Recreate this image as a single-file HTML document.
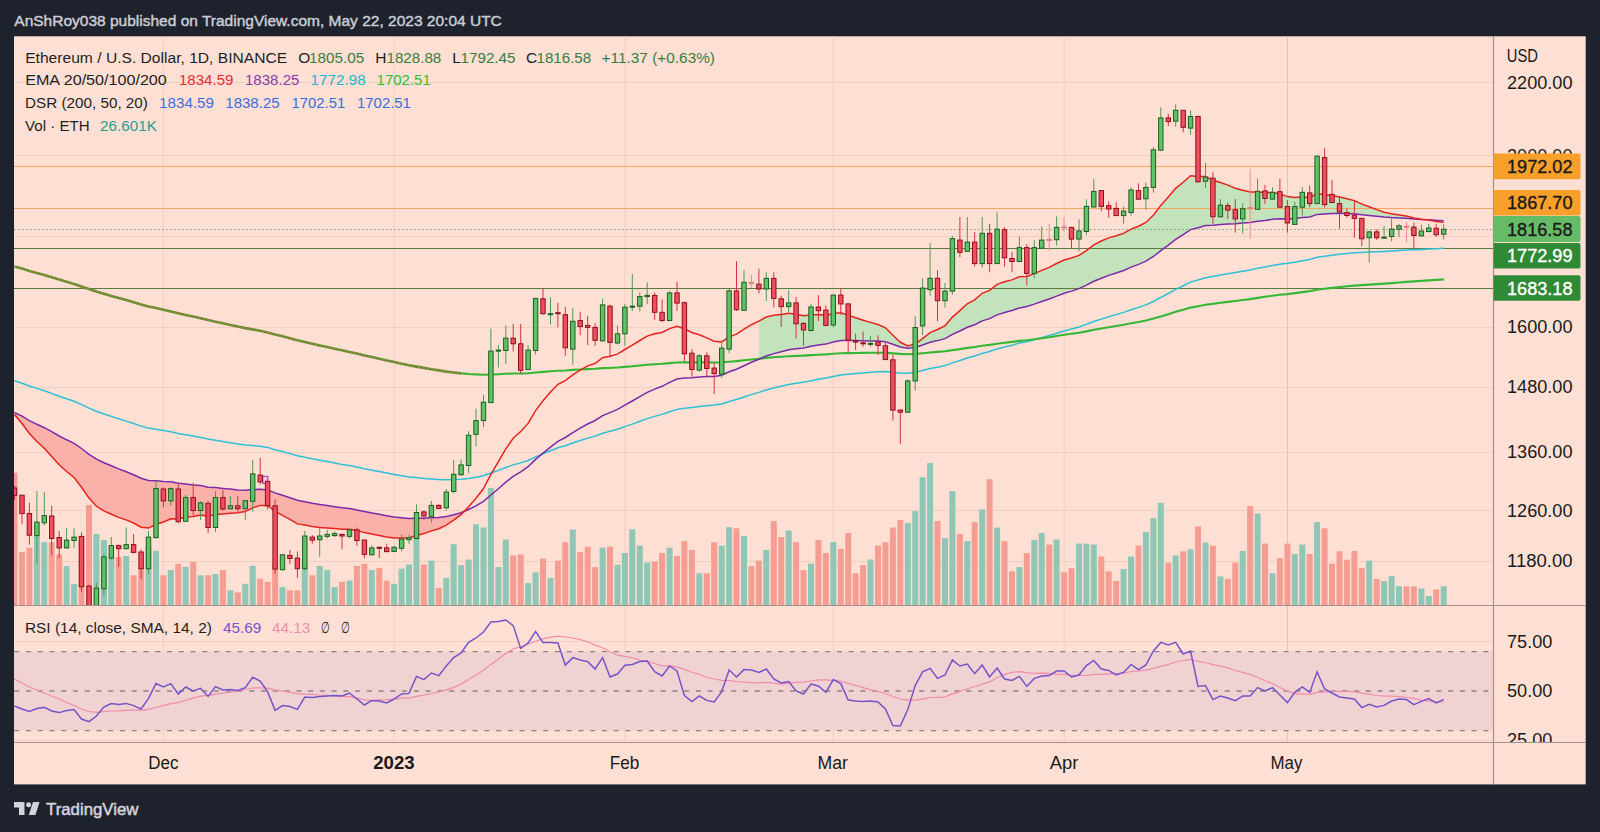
<!DOCTYPE html>
<html><head><meta charset="utf-8"><title>ETHUSD chart</title>
<style>html,body{margin:0;padding:0;background:#1e222d;width:1600px;height:832px;overflow:hidden;position:relative}</style>
</head><body>
<svg width="1600" height="832" viewBox="0 0 1600 832" style="position:absolute;left:0;top:0">
<defs><clipPath id="cm"><rect x="14" y="36" width="1479.5" height="569.5"/></clipPath><clipPath id="cr"><rect x="14" y="606" width="1479.5" height="136.5"/></clipPath><clipPath id="cra"><rect x="1494" y="606" width="92" height="136"/></clipPath></defs>
<rect x="14" y="36.3" width="1571.7" height="748.1" fill="#fde0d3"/>
<line x1="163.4" y1="36.3" x2="163.4" y2="742.5" stroke="#efcfc2" stroke-width="1"/>
<line x1="394.1" y1="36.3" x2="394.1" y2="742.5" stroke="#efcfc2" stroke-width="1"/>
<line x1="624.9" y1="36.3" x2="624.9" y2="742.5" stroke="#efcfc2" stroke-width="1"/>
<line x1="833.3" y1="36.3" x2="833.3" y2="742.5" stroke="#efcfc2" stroke-width="1"/>
<line x1="1064.1" y1="36.3" x2="1064.1" y2="742.5" stroke="#efcfc2" stroke-width="1"/>
<line x1="1287.4" y1="36.3" x2="1287.4" y2="742.5" stroke="#dfc0b5" stroke-width="1"/>
<line x1="14" y1="82.5" x2="1493.5" y2="82.5" stroke="#efcfc2" stroke-width="1"/>
<line x1="14" y1="155.5" x2="1493.5" y2="155.5" stroke="#efcfc2" stroke-width="1"/>
<line x1="14" y1="236.5" x2="1493.5" y2="236.5" stroke="#efcfc2" stroke-width="1"/>
<line x1="14" y1="327.5" x2="1493.5" y2="327.5" stroke="#efcfc2" stroke-width="1"/>
<line x1="14" y1="387.5" x2="1493.5" y2="387.5" stroke="#efcfc2" stroke-width="1"/>
<line x1="14" y1="452.5" x2="1493.5" y2="452.5" stroke="#efcfc2" stroke-width="1"/>
<line x1="14" y1="510.5" x2="1493.5" y2="510.5" stroke="#efcfc2" stroke-width="1"/>
<line x1="14" y1="561.5" x2="1493.5" y2="561.5" stroke="#efcfc2" stroke-width="1"/>
<g clip-path="url(#cm)">
<rect x="11.5" y="472.7" width="6" height="132.8" fill="#f59d92"/>
<rect x="19.0" y="552.0" width="6" height="53.5" fill="#f59d92"/>
<rect x="26.4" y="547.7" width="6" height="57.8" fill="#f59d92"/>
<rect x="33.9" y="536.0" width="6" height="69.5" fill="#8fc6b5"/>
<rect x="41.3" y="542.2" width="6" height="63.3" fill="#8fc6b5"/>
<rect x="48.7" y="542.2" width="6" height="63.3" fill="#f59d92"/>
<rect x="56.2" y="554.4" width="6" height="51.1" fill="#f59d92"/>
<rect x="63.6" y="566.1" width="6" height="39.4" fill="#8fc6b5"/>
<rect x="71.1" y="584.0" width="6" height="21.5" fill="#8fc6b5"/>
<rect x="78.5" y="536.0" width="6" height="69.5" fill="#f59d92"/>
<rect x="86.0" y="505.0" width="6" height="100.5" fill="#f59d92"/>
<rect x="93.4" y="534.0" width="6" height="71.5" fill="#8fc6b5"/>
<rect x="100.9" y="540.0" width="6" height="65.5" fill="#8fc6b5"/>
<rect x="108.3" y="557.5" width="6" height="48.0" fill="#8fc6b5"/>
<rect x="115.7" y="557.0" width="6" height="48.5" fill="#f59d92"/>
<rect x="123.2" y="556.0" width="6" height="49.5" fill="#8fc6b5"/>
<rect x="130.6" y="575.3" width="6" height="30.2" fill="#f59d92"/>
<rect x="138.1" y="567.7" width="6" height="37.8" fill="#f59d92"/>
<rect x="145.5" y="546.0" width="6" height="59.5" fill="#8fc6b5"/>
<rect x="153.0" y="550.8" width="6" height="54.7" fill="#8fc6b5"/>
<rect x="160.4" y="575.3" width="6" height="30.2" fill="#f59d92"/>
<rect x="167.8" y="570.0" width="6" height="35.5" fill="#8fc6b5"/>
<rect x="175.3" y="563.8" width="6" height="41.7" fill="#f59d92"/>
<rect x="182.7" y="566.7" width="6" height="38.8" fill="#8fc6b5"/>
<rect x="190.2" y="561.8" width="6" height="43.7" fill="#f59d92"/>
<rect x="197.6" y="575.3" width="6" height="30.2" fill="#8fc6b5"/>
<rect x="205.1" y="575.3" width="6" height="30.2" fill="#f59d92"/>
<rect x="212.5" y="574.0" width="6" height="31.5" fill="#8fc6b5"/>
<rect x="219.9" y="570.0" width="6" height="35.5" fill="#f59d92"/>
<rect x="227.4" y="590.4" width="6" height="15.1" fill="#8fc6b5"/>
<rect x="234.8" y="592.4" width="6" height="13.1" fill="#f59d92"/>
<rect x="242.3" y="583.8" width="6" height="21.7" fill="#8fc6b5"/>
<rect x="249.7" y="565.9" width="6" height="39.6" fill="#8fc6b5"/>
<rect x="257.2" y="578.7" width="6" height="26.8" fill="#f59d92"/>
<rect x="264.6" y="581.8" width="6" height="23.7" fill="#f59d92"/>
<rect x="272.1" y="564.6" width="6" height="40.9" fill="#f59d92"/>
<rect x="279.5" y="587.1" width="6" height="18.4" fill="#8fc6b5"/>
<rect x="286.9" y="590.4" width="6" height="15.1" fill="#f59d92"/>
<rect x="294.4" y="590.4" width="6" height="15.1" fill="#f59d92"/>
<rect x="301.8" y="566.7" width="6" height="38.8" fill="#8fc6b5"/>
<rect x="309.3" y="575.3" width="6" height="30.2" fill="#f59d92"/>
<rect x="316.7" y="565.9" width="6" height="39.6" fill="#8fc6b5"/>
<rect x="324.2" y="570.0" width="6" height="35.5" fill="#8fc6b5"/>
<rect x="331.6" y="587.1" width="6" height="18.4" fill="#8fc6b5"/>
<rect x="339.0" y="581.8" width="6" height="23.7" fill="#f59d92"/>
<rect x="346.5" y="580.6" width="6" height="24.9" fill="#8fc6b5"/>
<rect x="353.9" y="565.9" width="6" height="39.6" fill="#f59d92"/>
<rect x="361.4" y="563.8" width="6" height="41.7" fill="#f59d92"/>
<rect x="368.8" y="570.0" width="6" height="35.5" fill="#8fc6b5"/>
<rect x="376.3" y="567.9" width="6" height="37.6" fill="#f59d92"/>
<rect x="383.7" y="580.6" width="6" height="24.9" fill="#f59d92"/>
<rect x="391.1" y="583.8" width="6" height="21.7" fill="#8fc6b5"/>
<rect x="398.6" y="568.7" width="6" height="36.8" fill="#8fc6b5"/>
<rect x="406.0" y="564.6" width="6" height="40.9" fill="#8fc6b5"/>
<rect x="413.5" y="538.1" width="6" height="67.4" fill="#8fc6b5"/>
<rect x="420.9" y="564.6" width="6" height="40.9" fill="#f59d92"/>
<rect x="428.4" y="560.6" width="6" height="44.9" fill="#8fc6b5"/>
<rect x="435.8" y="588.1" width="6" height="17.4" fill="#f59d92"/>
<rect x="443.3" y="577.9" width="6" height="27.6" fill="#8fc6b5"/>
<rect x="450.7" y="544.2" width="6" height="61.3" fill="#8fc6b5"/>
<rect x="458.1" y="565.1" width="6" height="40.4" fill="#8fc6b5"/>
<rect x="465.6" y="559.5" width="6" height="46.0" fill="#8fc6b5"/>
<rect x="473.0" y="524.2" width="6" height="81.3" fill="#8fc6b5"/>
<rect x="480.5" y="527.5" width="6" height="78.0" fill="#8fc6b5"/>
<rect x="487.9" y="488.0" width="6" height="117.5" fill="#8fc6b5"/>
<rect x="495.4" y="567.1" width="6" height="38.4" fill="#8fc6b5"/>
<rect x="502.8" y="539.5" width="6" height="66.0" fill="#8fc6b5"/>
<rect x="510.2" y="555.4" width="6" height="50.1" fill="#f59d92"/>
<rect x="517.7" y="554.4" width="6" height="51.1" fill="#f59d92"/>
<rect x="525.1" y="583.0" width="6" height="22.5" fill="#8fc6b5"/>
<rect x="532.6" y="572.4" width="6" height="33.1" fill="#8fc6b5"/>
<rect x="540.0" y="558.5" width="6" height="47.0" fill="#f59d92"/>
<rect x="547.5" y="577.9" width="6" height="27.6" fill="#8fc6b5"/>
<rect x="554.9" y="560.6" width="6" height="44.9" fill="#f59d92"/>
<rect x="562.3" y="542.2" width="6" height="63.3" fill="#f59d92"/>
<rect x="569.8" y="529.5" width="6" height="76.0" fill="#8fc6b5"/>
<rect x="577.2" y="552.0" width="6" height="53.5" fill="#f59d92"/>
<rect x="584.7" y="546.7" width="6" height="58.8" fill="#f59d92"/>
<rect x="592.1" y="567.1" width="6" height="38.4" fill="#f59d92"/>
<rect x="599.6" y="547.7" width="6" height="57.8" fill="#8fc6b5"/>
<rect x="607.0" y="546.7" width="6" height="58.8" fill="#f59d92"/>
<rect x="614.5" y="564.6" width="6" height="40.9" fill="#8fc6b5"/>
<rect x="621.9" y="553.0" width="6" height="52.5" fill="#8fc6b5"/>
<rect x="629.3" y="529.3" width="6" height="76.2" fill="#8fc6b5"/>
<rect x="636.8" y="545.6" width="6" height="59.9" fill="#8fc6b5"/>
<rect x="644.2" y="562.6" width="6" height="42.9" fill="#8fc6b5"/>
<rect x="651.7" y="561.6" width="6" height="43.9" fill="#f59d92"/>
<rect x="659.1" y="553.0" width="6" height="52.5" fill="#f59d92"/>
<rect x="666.6" y="547.7" width="6" height="57.8" fill="#8fc6b5"/>
<rect x="674.0" y="556.1" width="6" height="49.4" fill="#f59d92"/>
<rect x="681.4" y="541.1" width="6" height="64.4" fill="#f59d92"/>
<rect x="688.9" y="549.9" width="6" height="55.6" fill="#f59d92"/>
<rect x="696.3" y="573.2" width="6" height="32.3" fill="#8fc6b5"/>
<rect x="703.8" y="573.2" width="6" height="32.3" fill="#f59d92"/>
<rect x="711.2" y="542.2" width="6" height="63.3" fill="#f59d92"/>
<rect x="718.7" y="545.6" width="6" height="59.9" fill="#8fc6b5"/>
<rect x="726.1" y="527.2" width="6" height="78.3" fill="#8fc6b5"/>
<rect x="733.5" y="528.3" width="6" height="77.2" fill="#f59d92"/>
<rect x="741.0" y="536.0" width="6" height="69.5" fill="#8fc6b5"/>
<rect x="748.4" y="566.1" width="6" height="39.4" fill="#f59d92"/>
<rect x="755.9" y="560.6" width="6" height="44.9" fill="#f59d92"/>
<rect x="763.3" y="549.9" width="6" height="55.6" fill="#8fc6b5"/>
<rect x="770.8" y="521.1" width="6" height="84.4" fill="#f59d92"/>
<rect x="778.2" y="537.1" width="6" height="68.4" fill="#f59d92"/>
<rect x="785.7" y="530.5" width="6" height="75.0" fill="#8fc6b5"/>
<rect x="793.1" y="542.2" width="6" height="63.3" fill="#f59d92"/>
<rect x="800.5" y="570.2" width="6" height="35.3" fill="#f59d92"/>
<rect x="808.0" y="563.6" width="6" height="41.9" fill="#8fc6b5"/>
<rect x="815.4" y="540.1" width="6" height="65.4" fill="#f59d92"/>
<rect x="822.9" y="553.0" width="6" height="52.5" fill="#f59d92"/>
<rect x="830.3" y="542.2" width="6" height="63.3" fill="#8fc6b5"/>
<rect x="837.8" y="548.9" width="6" height="56.6" fill="#f59d92"/>
<rect x="845.2" y="533.0" width="6" height="72.5" fill="#f59d92"/>
<rect x="852.6" y="573.2" width="6" height="32.3" fill="#f59d92"/>
<rect x="860.1" y="565.1" width="6" height="40.4" fill="#f59d92"/>
<rect x="867.5" y="559.5" width="6" height="46.0" fill="#8fc6b5"/>
<rect x="875.0" y="545.6" width="6" height="59.9" fill="#f59d92"/>
<rect x="882.4" y="542.2" width="6" height="63.3" fill="#f59d92"/>
<rect x="889.9" y="527.5" width="6" height="78.0" fill="#f59d92"/>
<rect x="897.3" y="520.1" width="6" height="85.4" fill="#f59d92"/>
<rect x="904.8" y="523.2" width="6" height="82.3" fill="#8fc6b5"/>
<rect x="912.2" y="511.1" width="6" height="94.4" fill="#8fc6b5"/>
<rect x="919.6" y="477.2" width="6" height="128.3" fill="#8fc6b5"/>
<rect x="927.1" y="463.1" width="6" height="142.4" fill="#8fc6b5"/>
<rect x="934.5" y="521.1" width="6" height="84.4" fill="#f59d92"/>
<rect x="942.0" y="538.1" width="6" height="67.4" fill="#8fc6b5"/>
<rect x="949.4" y="491.1" width="6" height="114.4" fill="#8fc6b5"/>
<rect x="956.9" y="534.0" width="6" height="71.5" fill="#f59d92"/>
<rect x="964.3" y="541.1" width="6" height="64.4" fill="#8fc6b5"/>
<rect x="971.7" y="522.1" width="6" height="83.4" fill="#f59d92"/>
<rect x="979.2" y="509.5" width="6" height="96.0" fill="#8fc6b5"/>
<rect x="986.6" y="479.2" width="6" height="126.3" fill="#f59d92"/>
<rect x="994.1" y="527.5" width="6" height="78.0" fill="#8fc6b5"/>
<rect x="1001.5" y="541.1" width="6" height="64.4" fill="#f59d92"/>
<rect x="1009.0" y="571.4" width="6" height="34.1" fill="#f59d92"/>
<rect x="1016.4" y="567.1" width="6" height="38.4" fill="#8fc6b5"/>
<rect x="1023.8" y="553.0" width="6" height="52.5" fill="#f59d92"/>
<rect x="1031.3" y="540.1" width="6" height="65.4" fill="#8fc6b5"/>
<rect x="1038.7" y="533.0" width="6" height="72.5" fill="#8fc6b5"/>
<rect x="1046.2" y="544.6" width="6" height="60.9" fill="#f59d92"/>
<rect x="1053.6" y="539.5" width="6" height="66.0" fill="#8fc6b5"/>
<rect x="1061.1" y="572.2" width="6" height="33.3" fill="#f59d92"/>
<rect x="1068.5" y="568.3" width="6" height="37.2" fill="#f59d92"/>
<rect x="1076.0" y="543.6" width="6" height="61.9" fill="#8fc6b5"/>
<rect x="1083.4" y="543.6" width="6" height="61.9" fill="#8fc6b5"/>
<rect x="1090.8" y="544.6" width="6" height="60.9" fill="#8fc6b5"/>
<rect x="1098.3" y="556.5" width="6" height="49.0" fill="#f59d92"/>
<rect x="1105.7" y="571.4" width="6" height="34.1" fill="#f59d92"/>
<rect x="1113.2" y="581.0" width="6" height="24.5" fill="#f59d92"/>
<rect x="1120.6" y="569.1" width="6" height="36.4" fill="#8fc6b5"/>
<rect x="1128.1" y="556.5" width="6" height="49.0" fill="#8fc6b5"/>
<rect x="1135.5" y="545.6" width="6" height="59.9" fill="#f59d92"/>
<rect x="1142.9" y="532.0" width="6" height="73.5" fill="#8fc6b5"/>
<rect x="1150.4" y="518.1" width="6" height="87.4" fill="#8fc6b5"/>
<rect x="1157.8" y="502.9" width="6" height="102.6" fill="#8fc6b5"/>
<rect x="1165.3" y="563.0" width="6" height="42.5" fill="#f59d92"/>
<rect x="1172.7" y="555.4" width="6" height="50.1" fill="#8fc6b5"/>
<rect x="1180.2" y="551.4" width="6" height="54.1" fill="#f59d92"/>
<rect x="1187.6" y="549.3" width="6" height="56.2" fill="#8fc6b5"/>
<rect x="1195.0" y="526.4" width="6" height="79.1" fill="#f59d92"/>
<rect x="1202.5" y="542.6" width="6" height="62.9" fill="#8fc6b5"/>
<rect x="1209.9" y="545.8" width="6" height="59.7" fill="#f59d92"/>
<rect x="1217.4" y="576.5" width="6" height="29.0" fill="#8fc6b5"/>
<rect x="1224.8" y="578.9" width="6" height="26.6" fill="#f59d92"/>
<rect x="1232.3" y="562.6" width="6" height="42.9" fill="#f59d92"/>
<rect x="1239.7" y="551.0" width="6" height="54.5" fill="#8fc6b5"/>
<rect x="1247.2" y="506.0" width="6" height="99.5" fill="#f59d92"/>
<rect x="1254.6" y="513.6" width="6" height="91.9" fill="#8fc6b5"/>
<rect x="1262.0" y="543.6" width="6" height="61.9" fill="#f59d92"/>
<rect x="1269.5" y="573.2" width="6" height="32.3" fill="#8fc6b5"/>
<rect x="1276.9" y="558.1" width="6" height="47.4" fill="#f59d92"/>
<rect x="1284.4" y="543.6" width="6" height="61.9" fill="#f59d92"/>
<rect x="1291.8" y="554.0" width="6" height="51.5" fill="#8fc6b5"/>
<rect x="1299.3" y="544.6" width="6" height="60.9" fill="#8fc6b5"/>
<rect x="1306.7" y="554.0" width="6" height="51.5" fill="#f59d92"/>
<rect x="1314.1" y="522.1" width="6" height="83.4" fill="#8fc6b5"/>
<rect x="1321.6" y="528.3" width="6" height="77.2" fill="#f59d92"/>
<rect x="1329.0" y="563.6" width="6" height="41.9" fill="#f59d92"/>
<rect x="1336.5" y="551.2" width="6" height="54.3" fill="#f59d92"/>
<rect x="1343.9" y="559.7" width="6" height="45.8" fill="#f59d92"/>
<rect x="1351.4" y="551.0" width="6" height="54.5" fill="#f59d92"/>
<rect x="1358.8" y="568.1" width="6" height="37.4" fill="#f59d92"/>
<rect x="1366.2" y="560.6" width="6" height="44.9" fill="#8fc6b5"/>
<rect x="1373.7" y="578.9" width="6" height="26.6" fill="#f59d92"/>
<rect x="1381.1" y="581.1" width="6" height="24.4" fill="#8fc6b5"/>
<rect x="1388.6" y="575.8" width="6" height="29.7" fill="#8fc6b5"/>
<rect x="1396.0" y="586.3" width="6" height="19.2" fill="#8fc6b5"/>
<rect x="1403.5" y="586.3" width="6" height="19.2" fill="#f59d92"/>
<rect x="1410.9" y="586.3" width="6" height="19.2" fill="#f59d92"/>
<rect x="1418.4" y="588.4" width="6" height="17.1" fill="#8fc6b5"/>
<rect x="1425.8" y="596.0" width="6" height="9.5" fill="#8fc6b5"/>
<rect x="1433.2" y="589.5" width="6" height="16.0" fill="#f59d92"/>
<rect x="1440.7" y="586.3" width="6" height="19.2" fill="#8fc6b5"/>
<polygon points="14.5,414.6 22.0,423.5 29.4,433.5 36.9,441.5 44.3,448.2 51.7,456.4 59.2,464.7 66.6,471.5 74.1,477.5 81.5,487.3 89.0,498.1 96.4,506.2 103.9,510.9 111.3,514.2 118.7,517.4 126.2,519.9 133.6,523.0 141.1,527.2 148.5,528.1 156.0,524.3 163.4,522.0 170.8,518.8 178.3,519.1 185.7,517.0 193.2,516.4 200.6,515.1 208.1,516.3 215.5,514.5 222.9,513.9 230.4,513.2 237.8,512.7 245.3,511.6 252.7,507.9 260.2,505.4 267.6,505.4 275.1,511.3 282.5,515.3 289.9,519.3 297.4,523.9 304.8,525.0 312.3,526.5 319.7,527.4 327.2,528.0 334.6,528.6 342.0,529.3 349.5,529.3 356.9,530.4 364.4,532.6 371.8,534.1 379.3,535.4 386.7,536.9 394.1,537.9 401.6,538.0 409.0,538.0 416.5,535.5 423.9,533.6 431.4,530.9 438.8,528.7 446.3,525.2 453.7,520.2 461.1,514.7 468.6,506.8 468.6,509.5 461.1,512.7 453.7,514.7 446.3,516.4 438.8,517.4 431.4,517.7 423.9,518.2 416.5,518.3 409.0,518.6 401.6,517.8 394.1,516.9 386.7,515.7 379.3,514.3 371.8,513.0 364.4,511.6 356.9,509.9 349.5,508.6 342.0,507.8 334.6,506.7 327.2,505.6 319.7,504.4 312.3,503.2 304.8,501.7 297.4,500.3 289.9,497.7 282.5,495.3 275.1,492.9 267.6,490.0 260.2,489.3 252.7,489.6 245.3,490.3 237.8,489.9 230.4,489.1 222.9,488.4 215.5,487.6 208.1,487.2 200.6,485.6 193.2,484.9 185.7,483.9 178.3,483.3 170.8,481.8 163.4,481.5 156.0,480.7 148.5,480.4 141.1,478.2 133.6,474.7 126.2,471.7 118.7,468.9 111.3,465.8 103.9,462.7 96.4,459.1 89.0,454.3 81.5,448.5 74.1,443.4 66.6,439.8 59.2,436.0 51.7,431.7 44.3,427.7 36.9,424.3 29.4,420.6 22.0,416.2 14.5,412.5" fill="#f9b1a9"/>
<polygon points="758.9,321.2 766.3,317.0 773.8,315.2 781.2,314.4 788.7,313.3 796.1,314.3 803.5,315.8 811.0,314.9 818.4,314.5 825.9,315.6 833.3,313.6 840.8,312.7 848.2,315.2 855.6,317.8 863.1,320.2 870.5,322.4 878.0,324.5 885.4,327.8 892.9,335.3 900.3,342.3 907.8,345.9 915.2,344.1 922.6,338.6 930.1,332.6 937.5,329.5 945.0,325.8 952.4,317.1 959.9,310.6 967.3,303.8 974.7,299.9 982.2,293.3 989.6,290.4 997.1,284.4 1004.5,281.8 1012.0,279.9 1019.4,276.7 1026.8,276.4 1034.3,273.6 1041.7,270.4 1049.2,267.4 1056.6,263.5 1064.1,260.0 1071.5,258.0 1079.0,255.4 1086.4,250.6 1093.8,244.8 1101.3,241.0 1108.7,237.9 1116.2,235.8 1123.6,233.4 1131.1,229.1 1138.5,226.2 1145.9,222.5 1153.4,215.2 1160.8,205.4 1168.3,197.0 1175.7,188.3 1183.2,182.3 1190.6,175.8 1198.0,176.4 1205.5,176.4 1212.9,180.2 1220.4,182.5 1227.8,185.1 1235.3,188.3 1242.7,190.2 1250.2,191.9 1257.6,191.9 1265.0,192.5 1272.5,192.5 1279.9,193.9 1287.4,196.6 1294.8,197.5 1302.3,197.0 1309.7,197.7 1317.1,193.6 1324.6,194.7 1332.0,195.4 1339.5,197.0 1346.9,198.7 1354.4,200.6 1361.8,204.1 1369.2,206.7 1376.7,209.6 1384.1,212.2 1391.6,213.8 1399.0,215.0 1406.5,216.1 1413.9,217.9 1421.4,219.2 1428.8,220.0 1428.8,219.7 1421.4,219.4 1413.9,218.9 1406.5,218.2 1399.0,217.9 1391.6,217.6 1384.1,217.1 1376.7,216.3 1369.2,215.4 1361.8,214.7 1354.4,213.8 1346.9,213.6 1339.5,213.5 1332.0,213.6 1324.6,214.0 1317.1,214.4 1309.7,216.9 1302.3,217.4 1294.8,218.5 1287.4,219.0 1279.9,218.8 1272.5,219.3 1265.0,220.4 1257.6,221.3 1250.2,222.6 1242.7,223.1 1235.3,223.7 1227.8,223.9 1220.4,224.5 1212.9,225.3 1205.5,225.6 1198.0,227.7 1190.6,229.6 1183.2,234.6 1175.7,239.3 1168.3,245.1 1160.8,250.6 1153.4,256.5 1145.9,261.2 1138.5,264.4 1131.1,267.1 1123.6,270.5 1116.2,273.0 1108.7,275.4 1101.3,278.3 1093.8,281.3 1086.4,285.2 1079.0,288.6 1071.5,291.1 1064.1,293.3 1056.6,296.1 1049.2,299.0 1041.7,301.5 1034.3,304.1 1026.8,306.5 1019.4,307.9 1012.0,310.5 1004.5,312.5 997.1,314.9 989.6,318.6 982.2,320.9 974.7,324.7 967.3,327.3 959.9,331.0 952.4,334.4 945.0,338.6 937.5,340.6 930.1,342.2 922.6,345.0 915.2,347.4 907.8,348.2 900.3,346.9 892.9,344.3 885.4,341.8 878.0,341.0 870.5,340.9 863.1,340.8 855.6,340.6 848.2,340.6 840.8,340.6 833.3,342.1 825.9,344.1 818.4,344.9 811.0,346.3 803.5,348.0 796.1,348.7 788.7,349.7 781.2,351.7 773.8,353.6 766.3,356.0 758.9,359.3" fill="#c3e3bc"/>
<line x1="14" y1="166.5" x2="1493.5" y2="166.5" stroke="#f0a864" stroke-width="1"/>
<line x1="14" y1="208.5" x2="1493.5" y2="208.5" stroke="#f0a864" stroke-width="1"/>
<line x1="14" y1="248.5" x2="1493.5" y2="248.5" stroke="#5a7a40" stroke-width="1"/>
<line x1="14" y1="288.5" x2="1493.5" y2="288.5" stroke="#5a7a40" stroke-width="1"/>
<line x1="14" y1="229.5" x2="1493.5" y2="229.5" stroke="#5f9a5f" stroke-width="1" stroke-dasharray="1.5 2.5" opacity="0.85"/>
<polyline points="14.5,380.8 22.0,383.2 29.4,386.0 36.9,388.4 44.3,390.8 51.7,393.4 59.2,396.2 66.6,398.8 74.1,401.3 81.5,404.6 89.0,408.1 96.4,411.3 103.9,414.0 111.3,416.4 118.7,418.8 126.2,421.1 133.6,423.5 141.1,426.1 148.5,428.1 156.0,429.3 163.4,430.6 170.8,431.8 178.3,433.4 185.7,434.7 193.2,436.1 200.6,437.4 208.1,439.0 215.5,440.2 222.9,441.5 230.4,442.7 237.8,443.9 245.3,445.0 252.7,445.6 260.2,446.3 267.6,447.4 275.1,449.7 282.5,451.6 289.9,453.6 297.4,455.7 304.8,457.2 312.3,458.8 319.7,460.2 327.2,461.6 334.6,463.0 342.0,464.4 349.5,465.6 356.9,467.0 364.4,468.7 371.8,470.2 379.3,471.6 386.7,473.1 394.1,474.5 401.6,475.8 409.0,476.9 416.5,477.6 423.9,478.4 431.4,478.9 438.8,479.5 446.3,479.7 453.7,479.6 461.1,479.3 468.6,478.4 476.0,477.2 483.5,475.7 490.9,473.0 498.4,470.4 505.8,467.5 513.2,464.9 520.7,462.9 528.1,460.5 535.6,456.9 543.0,453.8 550.5,450.8 557.9,447.8 565.3,445.7 572.8,443.0 580.2,440.5 587.7,438.1 595.1,436.1 602.6,433.2 610.0,431.3 617.5,429.3 624.9,426.6 632.3,424.1 639.8,421.3 647.2,418.6 654.7,416.4 662.1,414.4 669.6,411.8 677.0,409.4 684.4,408.3 691.9,407.5 699.3,406.5 706.8,405.7 714.2,405.0 721.7,403.9 729.1,401.5 736.5,399.5 744.0,397.0 751.4,394.6 758.9,392.4 766.3,389.9 773.8,388.0 781.2,386.3 788.7,384.6 796.1,383.3 803.5,382.2 811.0,380.7 818.4,379.2 825.9,378.1 833.3,376.4 840.8,374.9 848.2,374.2 855.6,373.5 863.1,372.9 870.5,372.3 878.0,371.8 885.4,371.5 892.9,372.3 900.3,373.1 907.8,373.2 915.2,372.3 922.6,370.5 930.1,368.6 937.5,367.2 945.0,365.6 952.4,362.9 959.9,360.5 967.3,358.0 974.7,356.0 982.2,353.4 989.6,351.5 997.1,348.9 1004.5,347.0 1012.0,345.2 1019.4,343.1 1026.8,341.7 1034.3,339.7 1041.7,337.6 1049.2,335.5 1056.6,333.2 1064.1,331.0 1071.5,329.1 1079.0,327.0 1086.4,324.4 1093.8,321.5 1101.3,319.1 1108.7,316.7 1116.2,314.6 1123.6,312.4 1131.1,309.8 1138.5,307.4 1145.9,304.9 1153.4,301.5 1160.8,297.4 1168.3,293.5 1175.7,289.4 1183.2,285.8 1190.6,282.1 1198.0,280.0 1205.5,277.8 1212.9,276.5 1220.4,275.1 1227.8,273.7 1235.3,272.6 1242.7,271.3 1250.2,270.0 1257.6,268.3 1265.0,266.9 1272.5,265.4 1279.9,264.2 1287.4,263.3 1294.8,262.2 1302.3,260.7 1309.7,259.5 1317.1,257.3 1324.6,256.3 1332.0,255.2 1339.5,254.3 1346.9,253.5 1354.4,252.8 1361.8,252.5 1369.2,252.1 1376.7,251.8 1384.1,251.5 1391.6,251.1 1399.0,250.6 1406.5,250.1 1413.9,249.8 1421.4,249.4 1428.8,249.0 1436.2,248.7 1443.7,248.3" fill="none" stroke="#2cc0d6" stroke-width="1.5"/>
<polyline points="14.5,266.5 22.0,268.6 29.4,270.9 36.9,273.0 44.3,275.1 51.7,277.3 59.2,279.6 66.6,281.8 74.1,283.9 81.5,286.4 89.0,289.0 96.4,291.5 103.9,293.7 111.3,295.9 118.7,298.0 126.2,300.1 133.6,302.3 141.1,304.5 148.5,306.5 156.0,308.1 163.4,309.8 170.8,311.4 178.3,313.3 185.7,314.9 193.2,316.6 200.6,318.3 208.1,320.1 215.5,321.7 222.9,323.3 230.4,324.9 237.8,326.6 245.3,328.1 252.7,329.4 260.2,330.8 267.6,332.4 275.1,334.4 282.5,336.3 289.9,338.2 297.4,340.2 304.8,341.9 312.3,343.7 319.7,345.4 327.2,347.0 334.6,348.7 342.0,350.3 349.5,351.9 356.9,353.6 364.4,355.4 371.8,357.1 379.3,358.8 386.7,360.4 394.1,362.1 401.6,363.7 409.0,365.2 416.5,366.6 423.9,367.9 431.4,369.2 438.8,370.4 446.3,371.6 453.7,372.5 461.1,373.4" fill="none" stroke="#8a7a30" stroke-width="2.6"/>
<polyline points="14.5,266.5 22.0,268.6 29.4,270.9 36.9,273.0 44.3,275.1 51.7,277.3 59.2,279.6 66.6,281.8 74.1,283.9 81.5,286.4 89.0,289.0 96.4,291.5 103.9,293.7 111.3,295.9 118.7,298.0 126.2,300.1 133.6,302.3 141.1,304.5 148.5,306.5 156.0,308.1 163.4,309.8 170.8,311.4 178.3,313.3 185.7,314.9 193.2,316.6 200.6,318.3 208.1,320.1 215.5,321.7 222.9,323.3 230.4,324.9 237.8,326.6 245.3,328.1 252.7,329.4 260.2,330.8 267.6,332.4 275.1,334.4 282.5,336.3 289.9,338.2 297.4,340.2 304.8,341.9 312.3,343.7 319.7,345.4 327.2,347.0 334.6,348.7 342.0,350.3 349.5,351.9 356.9,353.6 364.4,355.4 371.8,357.1 379.3,358.8 386.7,360.4 394.1,362.1 401.6,363.7 409.0,365.2 416.5,366.6 423.9,367.9 431.4,369.2 438.8,370.4 446.3,371.6 453.7,372.5 461.1,373.4" fill="none" stroke="#3fb83f" stroke-width="1.2" stroke-dasharray="3 2"/>
<polyline points="461.1,373.4 468.6,374.0 476.0,374.4 483.5,374.7 490.9,374.5 498.4,374.2 505.8,373.8 513.2,373.5 520.7,373.5 528.1,373.3 535.6,372.5 543.0,371.9 550.5,371.3 557.9,370.7 565.3,370.5 572.8,369.9 580.2,369.5 587.7,369.1 595.1,368.8 602.6,368.1 610.0,367.9 617.5,367.5 624.9,366.9 632.3,366.3 639.8,365.5 647.2,364.8 654.7,364.3 662.1,363.8 669.6,363.1 677.0,362.5 684.4,362.4 691.9,362.4 699.3,362.4 706.8,362.4 714.2,362.5 721.7,362.4 729.1,361.7 736.5,361.1 744.0,360.3 751.4,359.5 758.9,358.8 766.3,357.9 773.8,357.3 781.2,356.8 788.7,356.2 796.1,355.9 803.5,355.6 811.0,355.1 818.4,354.7 825.9,354.4 833.3,353.8 840.8,353.3 848.2,353.1 855.6,353.0 863.1,352.9 870.5,352.8 878.0,352.8 885.4,352.8 892.9,353.4 900.3,353.9 907.8,354.2 915.2,353.9 922.6,353.2 930.1,352.5 937.5,351.9 945.0,351.3 952.4,350.1 959.9,349.1 967.3,347.9 974.7,347.0 982.2,345.8 989.6,344.9 997.1,343.7 1004.5,342.8 1012.0,341.9 1019.4,340.9 1026.8,340.2 1034.3,339.3 1041.7,338.2 1049.2,337.2 1056.6,336.0 1064.1,334.8 1071.5,333.8 1079.0,332.7 1086.4,331.4 1093.8,329.8 1101.3,328.5 1108.7,327.2 1116.2,326.0 1123.6,324.8 1131.1,323.3 1138.5,322.0 1145.9,320.5 1153.4,318.6 1160.8,316.4 1168.3,314.2 1175.7,311.8 1183.2,309.8 1190.6,307.6 1198.0,306.2 1205.5,304.8 1212.9,303.9 1220.4,302.8 1227.8,301.9 1235.3,301.0 1242.7,300.0 1250.2,299.1 1257.6,297.9 1265.0,296.8 1272.5,295.7 1279.9,294.8 1287.4,294.1 1294.8,293.1 1302.3,292.1 1309.7,291.1 1317.1,289.7 1324.6,288.8 1332.0,287.9 1339.5,287.1 1346.9,286.3 1354.4,285.6 1361.8,285.1 1369.2,284.6 1376.7,284.1 1384.1,283.6 1391.6,283.1 1399.0,282.5 1406.5,281.9 1413.9,281.4 1421.4,280.9 1428.8,280.4 1436.2,279.9 1443.7,279.4" fill="none" stroke="#34b834" stroke-width="2.1"/>
<polyline points="14.5,412.5 22.0,416.2 29.4,420.6 36.9,424.3 44.3,427.7 51.7,431.7 59.2,436.0 66.6,439.8 74.1,443.4 81.5,448.5 89.0,454.3 96.4,459.1 103.9,462.7 111.3,465.8 118.7,468.9 126.2,471.7 133.6,474.7 141.1,478.2 148.5,480.4 156.0,480.7 163.4,481.5 170.8,481.8 178.3,483.3 185.7,483.9 193.2,484.9 200.6,485.6 208.1,487.2 215.5,487.6 222.9,488.4 230.4,489.1 237.8,489.9 245.3,490.3 252.7,489.6 260.2,489.3 267.6,490.0 275.1,492.9 282.5,495.3 289.9,497.7 297.4,500.3 304.8,501.7 312.3,503.2 319.7,504.4 327.2,505.6 334.6,506.7 342.0,507.8 349.5,508.6 356.9,509.9 364.4,511.6 371.8,513.0 379.3,514.3 386.7,515.7 394.1,516.9 401.6,517.8 409.0,518.6 416.5,518.3 423.9,518.2 431.4,517.7 438.8,517.4 446.3,516.4 453.7,514.7 461.1,512.7 468.6,509.5 476.0,505.8 483.5,501.4 490.9,495.0 498.4,488.7 505.8,482.2 513.2,476.3 520.7,471.9 528.1,466.7 535.6,459.4 543.0,453.1 550.5,447.1 557.9,441.4 565.3,437.5 572.8,432.6 580.2,428.2 587.7,424.0 595.1,420.5 602.6,415.6 610.0,412.6 617.5,409.4 624.9,405.1 632.3,401.0 639.8,396.6 647.2,392.4 654.7,389.1 662.1,386.3 669.6,382.4 677.0,379.1 684.4,378.1 691.9,377.8 699.3,376.9 706.8,376.6 714.2,376.5 721.7,375.3 729.1,371.8 736.5,369.3 744.0,365.7 751.4,362.3 758.9,359.3 766.3,356.0 773.8,353.6 781.2,351.7 788.7,349.7 796.1,348.7 803.5,348.0 811.0,346.3 818.4,344.9 825.9,344.1 833.3,342.1 840.8,340.6 848.2,340.6 855.6,340.6 863.1,340.8 870.5,340.9 878.0,341.0 885.4,341.8 892.9,344.3 900.3,346.9 907.8,348.2 915.2,347.4 922.6,345.0 930.1,342.2 937.5,340.6 945.0,338.6 952.4,334.4 959.9,331.0 967.3,327.3 974.7,324.7 982.2,320.9 989.6,318.6 997.1,314.9 1004.5,312.5 1012.0,310.5 1019.4,307.9 1026.8,306.5 1034.3,304.1 1041.7,301.5 1049.2,299.0 1056.6,296.1 1064.1,293.3 1071.5,291.1 1079.0,288.6 1086.4,285.2 1093.8,281.3 1101.3,278.3 1108.7,275.4 1116.2,273.0 1123.6,270.5 1131.1,267.1 1138.5,264.4 1145.9,261.2 1153.4,256.5 1160.8,250.6 1168.3,245.1 1175.7,239.3 1183.2,234.6 1190.6,229.6 1198.0,227.7 1205.5,225.6 1212.9,225.3 1220.4,224.5 1227.8,223.9 1235.3,223.7 1242.7,223.1 1250.2,222.6 1257.6,221.3 1265.0,220.4 1272.5,219.3 1279.9,218.8 1287.4,219.0 1294.8,218.5 1302.3,217.4 1309.7,216.9 1317.1,214.4 1324.6,214.0 1332.0,213.6 1339.5,213.5 1346.9,213.6 1354.4,213.8 1361.8,214.7 1369.2,215.4 1376.7,216.3 1384.1,217.1 1391.6,217.6 1399.0,217.9 1406.5,218.2 1413.9,218.9 1421.4,219.4 1428.8,219.7 1436.2,220.3 1443.7,220.7" fill="none" stroke="#7d2aa8" stroke-width="1.5"/>
<polyline points="14.5,414.6 22.0,423.5 29.4,433.5 36.9,441.5 44.3,448.2 51.7,456.4 59.2,464.7 66.6,471.5 74.1,477.5 81.5,487.3 89.0,498.1 96.4,506.2 103.9,510.9 111.3,514.2 118.7,517.4 126.2,519.9 133.6,523.0 141.1,527.2 148.5,528.1 156.0,524.3 163.4,522.0 170.8,518.8 178.3,519.1 185.7,517.0 193.2,516.4 200.6,515.1 208.1,516.3 215.5,514.5 222.9,513.9 230.4,513.2 237.8,512.7 245.3,511.6 252.7,507.9 260.2,505.4 267.6,505.4 275.1,511.3 282.5,515.3 289.9,519.3 297.4,523.9 304.8,525.0 312.3,526.5 319.7,527.4 327.2,528.0 334.6,528.6 342.0,529.3 349.5,529.3 356.9,530.4 364.4,532.6 371.8,534.1 379.3,535.4 386.7,536.9 394.1,537.9 401.6,538.0 409.0,538.0 416.5,535.5 423.9,533.6 431.4,530.9 438.8,528.7 446.3,525.2 453.7,520.2 461.1,514.7 468.6,506.8 476.0,498.2 483.5,488.5 490.9,474.3 498.4,461.6 505.8,448.9 513.2,438.3 520.7,431.5 528.1,423.4 535.6,410.6 543.0,400.8 550.5,392.1 557.9,384.3 565.3,380.7 572.8,374.8 580.2,370.1 587.7,365.9 595.1,363.5 602.6,357.7 610.0,356.2 617.5,354.1 624.9,349.5 632.3,345.2 639.8,340.5 647.2,336.1 654.7,333.8 662.1,332.5 669.6,328.6 677.0,326.2 684.4,328.8 691.9,332.5 699.3,334.7 706.8,337.9 714.2,341.2 721.7,341.9 729.1,336.9 736.5,334.2 744.0,329.1 751.4,324.7 758.9,321.2 766.3,317.0 773.8,315.2 781.2,314.4 788.7,313.3 796.1,314.3 803.5,315.8 811.0,314.9 818.4,314.5 825.9,315.6 833.3,313.6 840.8,312.7 848.2,315.2 855.6,317.8 863.1,320.2 870.5,322.4 878.0,324.5 885.4,327.8 892.9,335.3 900.3,342.3 907.8,345.9 915.2,344.1 922.6,338.6 930.1,332.6 937.5,329.5 945.0,325.8 952.4,317.1 959.9,310.6 967.3,303.8 974.7,299.9 982.2,293.3 989.6,290.4 997.1,284.4 1004.5,281.8 1012.0,279.9 1019.4,276.7 1026.8,276.4 1034.3,273.6 1041.7,270.4 1049.2,267.4 1056.6,263.5 1064.1,260.0 1071.5,258.0 1079.0,255.4 1086.4,250.6 1093.8,244.8 1101.3,241.0 1108.7,237.9 1116.2,235.8 1123.6,233.4 1131.1,229.1 1138.5,226.2 1145.9,222.5 1153.4,215.2 1160.8,205.4 1168.3,197.0 1175.7,188.3 1183.2,182.3 1190.6,175.8 1198.0,176.4 1205.5,176.4 1212.9,180.2 1220.4,182.5 1227.8,185.1 1235.3,188.3 1242.7,190.2 1250.2,191.9 1257.6,191.9 1265.0,192.5 1272.5,192.5 1279.9,193.9 1287.4,196.6 1294.8,197.5 1302.3,197.0 1309.7,197.7 1317.1,193.6 1324.6,194.7 1332.0,195.4 1339.5,197.0 1346.9,198.7 1354.4,200.6 1361.8,204.1 1369.2,206.7 1376.7,209.6 1384.1,212.2 1391.6,213.8 1399.0,215.0 1406.5,216.1 1413.9,217.9 1421.4,219.2 1428.8,220.0 1436.2,221.4 1443.7,222.2" fill="none" stroke="#e8231f" stroke-width="1.5"/>
<rect x="262.8" y="476.3" width="5" height="7.3" fill="#f2c4ee" stroke="#8a2aa0" stroke-width="0.9"/>
<line x1="14.5" y1="486.0" x2="14.5" y2="500.0" stroke="#d8303f" stroke-width="1"/>
<rect x="12.3" y="488.0" width="4.4" height="7.6" fill="#f24d5c" stroke="#8e1020" stroke-width="1"/>
<line x1="22.0" y1="494.8" x2="22.0" y2="524.2" stroke="#d8303f" stroke-width="1"/>
<rect x="19.8" y="495.2" width="4.4" height="18.4" fill="#f24d5c" stroke="#8e1020" stroke-width="1"/>
<line x1="29.4" y1="502.9" x2="29.4" y2="544.6" stroke="#d8303f" stroke-width="1"/>
<rect x="27.2" y="513.6" width="4.4" height="21.6" fill="#f24d5c" stroke="#8e1020" stroke-width="1"/>
<line x1="36.9" y1="491.1" x2="36.9" y2="563.6" stroke="#4e9a4f" stroke-width="1"/>
<rect x="34.7" y="522.1" width="4.4" height="13.5" fill="#5ec267" stroke="#1e5e22" stroke-width="1"/>
<line x1="44.3" y1="492.1" x2="44.3" y2="525.4" stroke="#4e9a4f" stroke-width="1"/>
<rect x="42.1" y="515.6" width="4.4" height="7.2" fill="#5ec267" stroke="#1e5e22" stroke-width="1"/>
<line x1="51.7" y1="505.8" x2="51.7" y2="555.4" stroke="#d8303f" stroke-width="1"/>
<rect x="49.5" y="516.0" width="4.4" height="22.5" fill="#f24d5c" stroke="#8e1020" stroke-width="1"/>
<line x1="59.2" y1="530.9" x2="59.2" y2="558.1" stroke="#d8303f" stroke-width="1"/>
<rect x="57.0" y="537.5" width="4.4" height="10.4" fill="#f24d5c" stroke="#8e1020" stroke-width="1"/>
<line x1="66.6" y1="528.3" x2="66.6" y2="548.3" stroke="#4e9a4f" stroke-width="1"/>
<rect x="64.4" y="540.1" width="4.4" height="7.8" fill="#5ec267" stroke="#1e5e22" stroke-width="1"/>
<line x1="74.1" y1="528.3" x2="74.1" y2="547.9" stroke="#4e9a4f" stroke-width="1"/>
<rect x="71.9" y="537.1" width="4.4" height="3.4" fill="#5ec267" stroke="#1e5e22" stroke-width="1"/>
<line x1="81.5" y1="532.4" x2="81.5" y2="591.6" stroke="#d8303f" stroke-width="1"/>
<rect x="79.3" y="536.4" width="4.4" height="50.3" fill="#f24d5c" stroke="#8e1020" stroke-width="1"/>
<line x1="89.0" y1="584.7" x2="89.0" y2="633.9" stroke="#d8303f" stroke-width="1"/>
<rect x="86.8" y="586.1" width="4.4" height="23.2" fill="#f24d5c" stroke="#8e1020" stroke-width="1"/>
<line x1="96.4" y1="583.0" x2="96.4" y2="620.0" stroke="#4e9a4f" stroke-width="1"/>
<rect x="94.2" y="588.1" width="4.4" height="21.2" fill="#5ec267" stroke="#1e5e22" stroke-width="1"/>
<line x1="103.9" y1="554.4" x2="103.9" y2="595.3" stroke="#4e9a4f" stroke-width="1"/>
<rect x="101.7" y="556.9" width="4.4" height="31.9" fill="#5ec267" stroke="#1e5e22" stroke-width="1"/>
<line x1="111.3" y1="537.1" x2="111.3" y2="559.5" stroke="#4e9a4f" stroke-width="1"/>
<rect x="109.1" y="545.6" width="4.4" height="12.5" fill="#5ec267" stroke="#1e5e22" stroke-width="1"/>
<line x1="118.7" y1="544.6" x2="118.7" y2="566.7" stroke="#d8303f" stroke-width="1"/>
<rect x="116.5" y="545.6" width="4.4" height="3.1" fill="#f24d5c" stroke="#8e1020" stroke-width="1"/>
<line x1="126.2" y1="527.5" x2="126.2" y2="549.3" stroke="#4e9a4f" stroke-width="1"/>
<rect x="124.0" y="544.6" width="4.4" height="4.1" fill="#5ec267" stroke="#1e5e22" stroke-width="1"/>
<line x1="133.6" y1="534.0" x2="133.6" y2="553.4" stroke="#d8303f" stroke-width="1"/>
<rect x="131.4" y="544.6" width="4.4" height="7.8" fill="#f24d5c" stroke="#8e1020" stroke-width="1"/>
<line x1="141.1" y1="549.3" x2="141.1" y2="578.9" stroke="#d8303f" stroke-width="1"/>
<rect x="138.9" y="552.0" width="4.4" height="16.7" fill="#f24d5c" stroke="#8e1020" stroke-width="1"/>
<line x1="148.5" y1="530.9" x2="148.5" y2="573.8" stroke="#4e9a4f" stroke-width="1"/>
<rect x="146.3" y="537.1" width="4.4" height="31.6" fill="#5ec267" stroke="#1e5e22" stroke-width="1"/>
<line x1="156.0" y1="480.9" x2="156.0" y2="538.5" stroke="#4e9a4f" stroke-width="1"/>
<rect x="153.8" y="488.6" width="4.4" height="49.1" fill="#5ec267" stroke="#1e5e22" stroke-width="1"/>
<line x1="163.4" y1="487.4" x2="163.4" y2="507.4" stroke="#d8303f" stroke-width="1"/>
<rect x="161.2" y="489.0" width="4.4" height="11.9" fill="#f24d5c" stroke="#8e1020" stroke-width="1"/>
<line x1="170.8" y1="487.4" x2="170.8" y2="505.4" stroke="#4e9a4f" stroke-width="1"/>
<rect x="168.6" y="488.6" width="4.4" height="12.3" fill="#5ec267" stroke="#1e5e22" stroke-width="1"/>
<line x1="178.3" y1="483.3" x2="178.3" y2="523.4" stroke="#d8303f" stroke-width="1"/>
<rect x="176.1" y="489.0" width="4.4" height="32.7" fill="#f24d5c" stroke="#8e1020" stroke-width="1"/>
<line x1="185.7" y1="494.8" x2="185.7" y2="521.7" stroke="#4e9a4f" stroke-width="1"/>
<rect x="183.5" y="497.6" width="4.4" height="23.7" fill="#5ec267" stroke="#1e5e22" stroke-width="1"/>
<line x1="193.2" y1="482.9" x2="193.2" y2="515.2" stroke="#d8303f" stroke-width="1"/>
<rect x="191.0" y="497.6" width="4.4" height="12.9" fill="#f24d5c" stroke="#8e1020" stroke-width="1"/>
<line x1="200.6" y1="501.3" x2="200.6" y2="520.1" stroke="#4e9a4f" stroke-width="1"/>
<rect x="198.4" y="502.9" width="4.4" height="7.6" fill="#5ec267" stroke="#1e5e22" stroke-width="1"/>
<line x1="208.1" y1="501.3" x2="208.1" y2="533.0" stroke="#d8303f" stroke-width="1"/>
<rect x="205.9" y="503.3" width="4.4" height="24.2" fill="#f24d5c" stroke="#8e1020" stroke-width="1"/>
<line x1="215.5" y1="491.1" x2="215.5" y2="532.0" stroke="#4e9a4f" stroke-width="1"/>
<rect x="213.3" y="497.6" width="4.4" height="29.9" fill="#5ec267" stroke="#1e5e22" stroke-width="1"/>
<line x1="222.9" y1="490.1" x2="222.9" y2="510.5" stroke="#d8303f" stroke-width="1"/>
<rect x="220.7" y="497.6" width="4.4" height="11.5" fill="#f24d5c" stroke="#8e1020" stroke-width="1"/>
<line x1="230.4" y1="496.2" x2="230.4" y2="509.5" stroke="#4e9a4f" stroke-width="1"/>
<rect x="228.2" y="505.8" width="4.4" height="2.9" fill="#5ec267" stroke="#1e5e22" stroke-width="1"/>
<line x1="237.8" y1="496.2" x2="237.8" y2="511.5" stroke="#d8303f" stroke-width="1"/>
<rect x="235.6" y="505.8" width="4.4" height="2.9" fill="#f24d5c" stroke="#8e1020" stroke-width="1"/>
<line x1="245.3" y1="500.3" x2="245.3" y2="520.1" stroke="#4e9a4f" stroke-width="1"/>
<rect x="243.1" y="500.7" width="4.4" height="8.0" fill="#5ec267" stroke="#1e5e22" stroke-width="1"/>
<line x1="252.7" y1="460.0" x2="252.7" y2="511.5" stroke="#4e9a4f" stroke-width="1"/>
<rect x="250.5" y="473.9" width="4.4" height="27.4" fill="#5ec267" stroke="#1e5e22" stroke-width="1"/>
<line x1="260.2" y1="458.0" x2="260.2" y2="484.5" stroke="#d8303f" stroke-width="1"/>
<rect x="258.0" y="475.1" width="4.4" height="6.8" fill="#f24d5c" stroke="#8e1020" stroke-width="1"/>
<line x1="267.6" y1="480.9" x2="267.6" y2="509.5" stroke="#d8303f" stroke-width="1"/>
<rect x="265.4" y="481.3" width="4.4" height="24.5" fill="#f24d5c" stroke="#8e1020" stroke-width="1"/>
<line x1="275.1" y1="499.3" x2="275.1" y2="573.8" stroke="#d8303f" stroke-width="1"/>
<rect x="272.9" y="505.8" width="4.4" height="63.3" fill="#f24d5c" stroke="#8e1020" stroke-width="1"/>
<line x1="282.5" y1="554.4" x2="282.5" y2="570.4" stroke="#4e9a4f" stroke-width="1"/>
<rect x="280.3" y="554.8" width="4.4" height="14.9" fill="#5ec267" stroke="#1e5e22" stroke-width="1"/>
<line x1="289.9" y1="549.9" x2="289.9" y2="564.2" stroke="#d8303f" stroke-width="1"/>
<rect x="287.7" y="555.4" width="4.4" height="3.1" fill="#f24d5c" stroke="#8e1020" stroke-width="1"/>
<line x1="297.4" y1="551.4" x2="297.4" y2="577.9" stroke="#d8303f" stroke-width="1"/>
<rect x="295.2" y="558.1" width="4.4" height="10.6" fill="#f24d5c" stroke="#8e1020" stroke-width="1"/>
<line x1="304.8" y1="530.9" x2="304.8" y2="570.4" stroke="#4e9a4f" stroke-width="1"/>
<rect x="302.6" y="536.0" width="4.4" height="32.7" fill="#5ec267" stroke="#1e5e22" stroke-width="1"/>
<line x1="312.3" y1="535.0" x2="312.3" y2="543.8" stroke="#d8303f" stroke-width="1"/>
<rect x="310.1" y="537.1" width="4.4" height="3.0" fill="#f24d5c" stroke="#8e1020" stroke-width="1"/>
<line x1="319.7" y1="528.3" x2="319.7" y2="556.9" stroke="#4e9a4f" stroke-width="1"/>
<rect x="317.5" y="536.0" width="4.4" height="3.7" fill="#5ec267" stroke="#1e5e22" stroke-width="1"/>
<line x1="327.2" y1="529.9" x2="327.2" y2="538.5" stroke="#4e9a4f" stroke-width="1"/>
<rect x="325.0" y="534.4" width="4.4" height="2.0" fill="#5ec267" stroke="#1e5e22" stroke-width="1"/>
<line x1="334.6" y1="531.5" x2="334.6" y2="537.1" stroke="#4e9a4f" stroke-width="1"/>
<rect x="332.4" y="533.6" width="4.4" height="2.0" fill="#5ec267" stroke="#1e5e22" stroke-width="1"/>
<line x1="342.0" y1="533.6" x2="342.0" y2="549.3" stroke="#d8303f" stroke-width="1"/>
<rect x="339.8" y="534.4" width="4.4" height="1.6" fill="#f24d5c" stroke="#8e1020" stroke-width="1"/>
<line x1="349.5" y1="528.9" x2="349.5" y2="538.5" stroke="#4e9a4f" stroke-width="1"/>
<rect x="347.3" y="529.9" width="4.4" height="6.5" fill="#5ec267" stroke="#1e5e22" stroke-width="1"/>
<line x1="356.9" y1="527.5" x2="356.9" y2="545.8" stroke="#d8303f" stroke-width="1"/>
<rect x="354.7" y="529.9" width="4.4" height="10.6" fill="#f24d5c" stroke="#8e1020" stroke-width="1"/>
<line x1="364.4" y1="539.7" x2="364.4" y2="558.5" stroke="#d8303f" stroke-width="1"/>
<rect x="362.2" y="540.1" width="4.4" height="14.3" fill="#f24d5c" stroke="#8e1020" stroke-width="1"/>
<line x1="371.8" y1="545.2" x2="371.8" y2="555.4" stroke="#4e9a4f" stroke-width="1"/>
<rect x="369.6" y="547.9" width="4.4" height="6.9" fill="#5ec267" stroke="#1e5e22" stroke-width="1"/>
<line x1="379.3" y1="546.7" x2="379.3" y2="558.1" stroke="#d8303f" stroke-width="1"/>
<rect x="377.1" y="547.3" width="4.4" height="1.0" fill="#f24d5c" stroke="#8e1020" stroke-width="1"/>
<line x1="386.7" y1="543.8" x2="386.7" y2="552.4" stroke="#d8303f" stroke-width="1"/>
<rect x="384.5" y="547.9" width="4.4" height="3.7" fill="#f24d5c" stroke="#8e1020" stroke-width="1"/>
<line x1="394.1" y1="545.8" x2="394.1" y2="552.0" stroke="#4e9a4f" stroke-width="1"/>
<rect x="391.9" y="547.3" width="4.4" height="4.1" fill="#5ec267" stroke="#1e5e22" stroke-width="1"/>
<line x1="401.6" y1="534.4" x2="401.6" y2="551.4" stroke="#4e9a4f" stroke-width="1"/>
<rect x="399.4" y="539.1" width="4.4" height="9.2" fill="#5ec267" stroke="#1e5e22" stroke-width="1"/>
<line x1="409.0" y1="535.0" x2="409.0" y2="543.8" stroke="#4e9a4f" stroke-width="1"/>
<rect x="406.8" y="537.7" width="4.4" height="2.0" fill="#5ec267" stroke="#1e5e22" stroke-width="1"/>
<line x1="416.5" y1="504.4" x2="416.5" y2="539.1" stroke="#4e9a4f" stroke-width="1"/>
<rect x="414.3" y="512.5" width="4.4" height="26.0" fill="#5ec267" stroke="#1e5e22" stroke-width="1"/>
<line x1="423.9" y1="510.5" x2="423.9" y2="520.1" stroke="#d8303f" stroke-width="1"/>
<rect x="421.7" y="511.9" width="4.4" height="4.1" fill="#f24d5c" stroke="#8e1020" stroke-width="1"/>
<line x1="431.4" y1="500.9" x2="431.4" y2="522.8" stroke="#4e9a4f" stroke-width="1"/>
<rect x="429.2" y="505.4" width="4.4" height="11.2" fill="#5ec267" stroke="#1e5e22" stroke-width="1"/>
<line x1="438.8" y1="504.4" x2="438.8" y2="509.1" stroke="#d8303f" stroke-width="1"/>
<rect x="436.6" y="505.4" width="4.4" height="3.1" fill="#f24d5c" stroke="#8e1020" stroke-width="1"/>
<line x1="446.3" y1="489.0" x2="446.3" y2="510.5" stroke="#4e9a4f" stroke-width="1"/>
<rect x="444.1" y="492.1" width="4.4" height="15.7" fill="#5ec267" stroke="#1e5e22" stroke-width="1"/>
<line x1="453.7" y1="460.0" x2="453.7" y2="493.5" stroke="#4e9a4f" stroke-width="1"/>
<rect x="451.5" y="474.3" width="4.4" height="17.2" fill="#5ec267" stroke="#1e5e22" stroke-width="1"/>
<line x1="461.1" y1="459.4" x2="461.1" y2="475.8" stroke="#4e9a4f" stroke-width="1"/>
<rect x="458.9" y="464.9" width="4.4" height="9.8" fill="#5ec267" stroke="#1e5e22" stroke-width="1"/>
<line x1="468.6" y1="431.2" x2="468.6" y2="473.1" stroke="#4e9a4f" stroke-width="1"/>
<rect x="466.4" y="435.3" width="4.4" height="30.2" fill="#5ec267" stroke="#1e5e22" stroke-width="1"/>
<line x1="476.0" y1="408.7" x2="476.0" y2="446.5" stroke="#4e9a4f" stroke-width="1"/>
<rect x="473.8" y="420.6" width="4.4" height="13.7" fill="#5ec267" stroke="#1e5e22" stroke-width="1"/>
<line x1="483.5" y1="394.8" x2="483.5" y2="427.1" stroke="#4e9a4f" stroke-width="1"/>
<rect x="481.3" y="402.2" width="4.4" height="18.4" fill="#5ec267" stroke="#1e5e22" stroke-width="1"/>
<line x1="490.9" y1="328.6" x2="490.9" y2="402.6" stroke="#4e9a4f" stroke-width="1"/>
<rect x="488.7" y="351.1" width="4.4" height="51.5" fill="#5ec267" stroke="#1e5e22" stroke-width="1"/>
<line x1="498.4" y1="345.0" x2="498.4" y2="367.5" stroke="#4e9a4f" stroke-width="1"/>
<rect x="496.2" y="350.1" width="4.4" height="1.0" fill="#5ec267" stroke="#1e5e22" stroke-width="1"/>
<line x1="505.8" y1="325.4" x2="505.8" y2="363.8" stroke="#4e9a4f" stroke-width="1"/>
<rect x="503.6" y="338.2" width="4.4" height="12.3" fill="#5ec267" stroke="#1e5e22" stroke-width="1"/>
<line x1="513.2" y1="323.9" x2="513.2" y2="351.5" stroke="#d8303f" stroke-width="1"/>
<rect x="511.0" y="338.2" width="4.4" height="5.6" fill="#f24d5c" stroke="#8e1020" stroke-width="1"/>
<line x1="520.7" y1="323.9" x2="520.7" y2="374.0" stroke="#d8303f" stroke-width="1"/>
<rect x="518.5" y="343.8" width="4.4" height="26.5" fill="#f24d5c" stroke="#8e1020" stroke-width="1"/>
<line x1="528.1" y1="345.0" x2="528.1" y2="369.9" stroke="#4e9a4f" stroke-width="1"/>
<rect x="525.9" y="350.1" width="4.4" height="19.4" fill="#5ec267" stroke="#1e5e22" stroke-width="1"/>
<line x1="535.6" y1="298.0" x2="535.6" y2="354.6" stroke="#4e9a4f" stroke-width="1"/>
<rect x="533.4" y="298.4" width="4.4" height="52.1" fill="#5ec267" stroke="#1e5e22" stroke-width="1"/>
<line x1="543.0" y1="288.2" x2="543.0" y2="314.7" stroke="#d8303f" stroke-width="1"/>
<rect x="540.8" y="298.8" width="4.4" height="14.9" fill="#f24d5c" stroke="#8e1020" stroke-width="1"/>
<line x1="550.5" y1="297.4" x2="550.5" y2="324.5" stroke="#4e9a4f" stroke-width="1"/>
<rect x="548.3" y="313.7" width="4.4" height="1.0" fill="#5ec267" stroke="#1e5e22" stroke-width="1"/>
<line x1="557.9" y1="302.9" x2="557.9" y2="327.4" stroke="#d8303f" stroke-width="1"/>
<rect x="555.7" y="312.7" width="4.4" height="1.0" fill="#f24d5c" stroke="#8e1020" stroke-width="1"/>
<line x1="565.3" y1="307.0" x2="565.3" y2="355.6" stroke="#d8303f" stroke-width="1"/>
<rect x="563.1" y="314.7" width="4.4" height="33.1" fill="#f24d5c" stroke="#8e1020" stroke-width="1"/>
<line x1="572.8" y1="308.2" x2="572.8" y2="364.8" stroke="#4e9a4f" stroke-width="1"/>
<rect x="570.6" y="321.3" width="4.4" height="27.8" fill="#5ec267" stroke="#1e5e22" stroke-width="1"/>
<line x1="580.2" y1="311.7" x2="580.2" y2="335.2" stroke="#d8303f" stroke-width="1"/>
<rect x="578.0" y="320.5" width="4.4" height="6.1" fill="#f24d5c" stroke="#8e1020" stroke-width="1"/>
<line x1="587.7" y1="315.8" x2="587.7" y2="345.0" stroke="#d8303f" stroke-width="1"/>
<rect x="585.5" y="325.4" width="4.4" height="2.0" fill="#f24d5c" stroke="#8e1020" stroke-width="1"/>
<line x1="595.1" y1="323.3" x2="595.1" y2="345.8" stroke="#d8303f" stroke-width="1"/>
<rect x="592.9" y="327.4" width="4.4" height="12.9" fill="#f24d5c" stroke="#8e1020" stroke-width="1"/>
<line x1="602.6" y1="298.8" x2="602.6" y2="341.3" stroke="#4e9a4f" stroke-width="1"/>
<rect x="600.4" y="304.9" width="4.4" height="36.0" fill="#5ec267" stroke="#1e5e22" stroke-width="1"/>
<line x1="610.0" y1="304.5" x2="610.0" y2="357.0" stroke="#d8303f" stroke-width="1"/>
<rect x="607.8" y="306.2" width="4.4" height="36.2" fill="#f24d5c" stroke="#8e1020" stroke-width="1"/>
<line x1="617.5" y1="325.6" x2="617.5" y2="344.4" stroke="#4e9a4f" stroke-width="1"/>
<rect x="615.3" y="333.8" width="4.4" height="9.2" fill="#5ec267" stroke="#1e5e22" stroke-width="1"/>
<line x1="624.9" y1="304.1" x2="624.9" y2="345.6" stroke="#4e9a4f" stroke-width="1"/>
<rect x="622.7" y="307.2" width="4.4" height="26.6" fill="#5ec267" stroke="#1e5e22" stroke-width="1"/>
<line x1="632.3" y1="274.1" x2="632.3" y2="310.9" stroke="#4e9a4f" stroke-width="1"/>
<rect x="630.1" y="306.2" width="4.4" height="1.0" fill="#5ec267" stroke="#1e5e22" stroke-width="1"/>
<line x1="639.8" y1="292.5" x2="639.8" y2="311.3" stroke="#4e9a4f" stroke-width="1"/>
<rect x="637.6" y="296.6" width="4.4" height="9.6" fill="#5ec267" stroke="#1e5e22" stroke-width="1"/>
<line x1="647.2" y1="282.3" x2="647.2" y2="304.1" stroke="#4e9a4f" stroke-width="1"/>
<rect x="645.0" y="295.4" width="4.4" height="1.2" fill="#5ec267" stroke="#1e5e22" stroke-width="1"/>
<line x1="654.7" y1="292.5" x2="654.7" y2="319.9" stroke="#d8303f" stroke-width="1"/>
<rect x="652.5" y="295.4" width="4.4" height="16.9" fill="#f24d5c" stroke="#8e1020" stroke-width="1"/>
<line x1="662.1" y1="299.4" x2="662.1" y2="321.9" stroke="#d8303f" stroke-width="1"/>
<rect x="659.9" y="312.3" width="4.4" height="8.2" fill="#f24d5c" stroke="#8e1020" stroke-width="1"/>
<line x1="669.6" y1="291.3" x2="669.6" y2="321.1" stroke="#4e9a4f" stroke-width="1"/>
<rect x="667.4" y="292.9" width="4.4" height="27.6" fill="#5ec267" stroke="#1e5e22" stroke-width="1"/>
<line x1="677.0" y1="281.7" x2="677.0" y2="310.9" stroke="#d8303f" stroke-width="1"/>
<rect x="674.8" y="292.9" width="4.4" height="10.2" fill="#f24d5c" stroke="#8e1020" stroke-width="1"/>
<line x1="684.4" y1="301.5" x2="684.4" y2="361.4" stroke="#d8303f" stroke-width="1"/>
<rect x="682.2" y="302.7" width="4.4" height="51.1" fill="#f24d5c" stroke="#8e1020" stroke-width="1"/>
<line x1="691.9" y1="349.1" x2="691.9" y2="376.7" stroke="#d8303f" stroke-width="1"/>
<rect x="689.7" y="353.2" width="4.4" height="16.3" fill="#f24d5c" stroke="#8e1020" stroke-width="1"/>
<line x1="699.3" y1="354.2" x2="699.3" y2="371.6" stroke="#4e9a4f" stroke-width="1"/>
<rect x="697.1" y="355.8" width="4.4" height="14.3" fill="#5ec267" stroke="#1e5e22" stroke-width="1"/>
<line x1="706.8" y1="352.2" x2="706.8" y2="377.7" stroke="#d8303f" stroke-width="1"/>
<rect x="704.6" y="355.8" width="4.4" height="12.7" fill="#f24d5c" stroke="#8e1020" stroke-width="1"/>
<line x1="714.2" y1="362.8" x2="714.2" y2="394.1" stroke="#d8303f" stroke-width="1"/>
<rect x="712.0" y="368.1" width="4.4" height="5.5" fill="#f24d5c" stroke="#8e1020" stroke-width="1"/>
<line x1="721.7" y1="343.0" x2="721.7" y2="377.7" stroke="#4e9a4f" stroke-width="1"/>
<rect x="719.5" y="348.1" width="4.4" height="26.1" fill="#5ec267" stroke="#1e5e22" stroke-width="1"/>
<line x1="729.1" y1="288.4" x2="729.1" y2="353.2" stroke="#4e9a4f" stroke-width="1"/>
<rect x="726.9" y="290.9" width="4.4" height="58.2" fill="#5ec267" stroke="#1e5e22" stroke-width="1"/>
<line x1="736.5" y1="261.2" x2="736.5" y2="310.9" stroke="#d8303f" stroke-width="1"/>
<rect x="734.3" y="290.9" width="4.4" height="18.8" fill="#f24d5c" stroke="#8e1020" stroke-width="1"/>
<line x1="744.0" y1="270.0" x2="744.0" y2="310.9" stroke="#4e9a4f" stroke-width="1"/>
<rect x="741.8" y="282.3" width="4.4" height="28.0" fill="#5ec267" stroke="#1e5e22" stroke-width="1"/>
<line x1="751.4" y1="274.9" x2="751.4" y2="287.8" stroke="#eb8f92" stroke-width="1"/>
<rect x="749.2" y="282.3" width="4.4" height="1.4" fill="#f3a0a2" stroke="#e07f84" stroke-width="1"/>
<line x1="758.9" y1="268.7" x2="758.9" y2="293.5" stroke="#d8303f" stroke-width="1"/>
<rect x="756.7" y="284.2" width="4.4" height="4.8" fill="#f24d5c" stroke="#8e1020" stroke-width="1"/>
<line x1="766.3" y1="272.3" x2="766.3" y2="300.9" stroke="#4e9a4f" stroke-width="1"/>
<rect x="764.1" y="278.4" width="4.4" height="10.6" fill="#5ec267" stroke="#1e5e22" stroke-width="1"/>
<line x1="773.8" y1="272.3" x2="773.8" y2="307.4" stroke="#d8303f" stroke-width="1"/>
<rect x="771.6" y="278.4" width="4.4" height="20.0" fill="#f24d5c" stroke="#8e1020" stroke-width="1"/>
<line x1="781.2" y1="295.8" x2="781.2" y2="327.0" stroke="#d8303f" stroke-width="1"/>
<rect x="779.0" y="298.8" width="4.4" height="7.8" fill="#f24d5c" stroke="#8e1020" stroke-width="1"/>
<line x1="788.7" y1="290.2" x2="788.7" y2="312.1" stroke="#4e9a4f" stroke-width="1"/>
<rect x="786.5" y="302.9" width="4.4" height="3.7" fill="#5ec267" stroke="#1e5e22" stroke-width="1"/>
<line x1="796.1" y1="296.8" x2="796.1" y2="338.7" stroke="#d8303f" stroke-width="1"/>
<rect x="793.9" y="302.9" width="4.4" height="20.9" fill="#f24d5c" stroke="#8e1020" stroke-width="1"/>
<line x1="803.5" y1="322.3" x2="803.5" y2="345.8" stroke="#d8303f" stroke-width="1"/>
<rect x="801.3" y="323.3" width="4.4" height="6.6" fill="#f24d5c" stroke="#8e1020" stroke-width="1"/>
<line x1="811.0" y1="303.9" x2="811.0" y2="331.5" stroke="#4e9a4f" stroke-width="1"/>
<rect x="808.8" y="307.0" width="4.4" height="23.5" fill="#5ec267" stroke="#1e5e22" stroke-width="1"/>
<line x1="818.4" y1="295.1" x2="818.4" y2="320.9" stroke="#d8303f" stroke-width="1"/>
<rect x="816.2" y="307.0" width="4.4" height="3.7" fill="#f24d5c" stroke="#8e1020" stroke-width="1"/>
<line x1="825.9" y1="305.4" x2="825.9" y2="326.4" stroke="#d8303f" stroke-width="1"/>
<rect x="823.7" y="310.1" width="4.4" height="15.3" fill="#f24d5c" stroke="#8e1020" stroke-width="1"/>
<line x1="833.3" y1="294.3" x2="833.3" y2="327.4" stroke="#4e9a4f" stroke-width="1"/>
<rect x="831.1" y="295.1" width="4.4" height="29.9" fill="#5ec267" stroke="#1e5e22" stroke-width="1"/>
<line x1="840.8" y1="288.2" x2="840.8" y2="314.8" stroke="#d8303f" stroke-width="1"/>
<rect x="838.6" y="295.1" width="4.4" height="8.8" fill="#f24d5c" stroke="#8e1020" stroke-width="1"/>
<line x1="848.2" y1="303.3" x2="848.2" y2="351.9" stroke="#d8303f" stroke-width="1"/>
<rect x="846.0" y="303.9" width="4.4" height="36.2" fill="#f24d5c" stroke="#8e1020" stroke-width="1"/>
<line x1="855.6" y1="333.6" x2="855.6" y2="349.9" stroke="#d8303f" stroke-width="1"/>
<rect x="853.4" y="340.7" width="4.4" height="1.4" fill="#f24d5c" stroke="#8e1020" stroke-width="1"/>
<line x1="863.1" y1="331.5" x2="863.1" y2="346.8" stroke="#d8303f" stroke-width="1"/>
<rect x="860.9" y="342.8" width="4.4" height="1.0" fill="#f24d5c" stroke="#8e1020" stroke-width="1"/>
<line x1="870.5" y1="336.0" x2="870.5" y2="346.8" stroke="#4e9a4f" stroke-width="1"/>
<rect x="868.3" y="343.4" width="4.4" height="1.0" fill="#5ec267" stroke="#1e5e22" stroke-width="1"/>
<line x1="878.0" y1="335.2" x2="878.0" y2="355.0" stroke="#d8303f" stroke-width="1"/>
<rect x="875.8" y="342.1" width="4.4" height="3.3" fill="#f24d5c" stroke="#8e1020" stroke-width="1"/>
<line x1="885.4" y1="342.8" x2="885.4" y2="359.7" stroke="#d8303f" stroke-width="1"/>
<rect x="883.2" y="345.8" width="4.4" height="13.8" fill="#f24d5c" stroke="#8e1020" stroke-width="1"/>
<line x1="892.9" y1="354.7" x2="892.9" y2="420.6" stroke="#d8303f" stroke-width="1"/>
<rect x="890.7" y="359.8" width="4.4" height="50.3" fill="#f24d5c" stroke="#8e1020" stroke-width="1"/>
<line x1="900.3" y1="409.4" x2="900.3" y2="444.3" stroke="#d8303f" stroke-width="1"/>
<rect x="898.1" y="410.1" width="4.4" height="2.1" fill="#f24d5c" stroke="#8e1020" stroke-width="1"/>
<line x1="907.8" y1="379.2" x2="907.8" y2="412.9" stroke="#4e9a4f" stroke-width="1"/>
<rect x="905.5" y="380.9" width="4.4" height="31.3" fill="#5ec267" stroke="#1e5e22" stroke-width="1"/>
<line x1="915.2" y1="316.0" x2="915.2" y2="390.5" stroke="#4e9a4f" stroke-width="1"/>
<rect x="913.0" y="327.5" width="4.4" height="53.4" fill="#5ec267" stroke="#1e5e22" stroke-width="1"/>
<line x1="922.6" y1="278.3" x2="922.6" y2="335.1" stroke="#4e9a4f" stroke-width="1"/>
<rect x="920.4" y="288.1" width="4.4" height="37.8" fill="#5ec267" stroke="#1e5e22" stroke-width="1"/>
<line x1="930.1" y1="243.1" x2="930.1" y2="295.8" stroke="#4e9a4f" stroke-width="1"/>
<rect x="927.9" y="278.3" width="4.4" height="11.4" fill="#5ec267" stroke="#1e5e22" stroke-width="1"/>
<line x1="937.5" y1="270.1" x2="937.5" y2="321.2" stroke="#d8303f" stroke-width="1"/>
<rect x="935.3" y="278.3" width="4.4" height="22.4" fill="#f24d5c" stroke="#8e1020" stroke-width="1"/>
<line x1="945.0" y1="283.0" x2="945.0" y2="307.5" stroke="#4e9a4f" stroke-width="1"/>
<rect x="942.8" y="291.1" width="4.4" height="9.6" fill="#5ec267" stroke="#1e5e22" stroke-width="1"/>
<line x1="952.4" y1="236.0" x2="952.4" y2="294.6" stroke="#4e9a4f" stroke-width="1"/>
<rect x="950.2" y="238.6" width="4.4" height="52.5" fill="#5ec267" stroke="#1e5e22" stroke-width="1"/>
<line x1="959.9" y1="217.0" x2="959.9" y2="257.0" stroke="#d8303f" stroke-width="1"/>
<rect x="957.7" y="240.1" width="4.4" height="12.2" fill="#f24d5c" stroke="#8e1020" stroke-width="1"/>
<line x1="967.3" y1="217.0" x2="967.3" y2="251.7" stroke="#4e9a4f" stroke-width="1"/>
<rect x="965.1" y="242.1" width="4.4" height="9.2" fill="#5ec267" stroke="#1e5e22" stroke-width="1"/>
<line x1="974.7" y1="231.9" x2="974.7" y2="266.6" stroke="#d8303f" stroke-width="1"/>
<rect x="972.5" y="242.1" width="4.4" height="21.5" fill="#f24d5c" stroke="#8e1020" stroke-width="1"/>
<line x1="982.2" y1="217.0" x2="982.2" y2="267.6" stroke="#4e9a4f" stroke-width="1"/>
<rect x="980.0" y="233.3" width="4.4" height="30.3" fill="#5ec267" stroke="#1e5e22" stroke-width="1"/>
<line x1="989.6" y1="223.7" x2="989.6" y2="272.1" stroke="#d8303f" stroke-width="1"/>
<rect x="987.4" y="233.3" width="4.4" height="30.3" fill="#f24d5c" stroke="#8e1020" stroke-width="1"/>
<line x1="997.1" y1="212.1" x2="997.1" y2="264.0" stroke="#4e9a4f" stroke-width="1"/>
<rect x="994.9" y="229.2" width="4.4" height="34.4" fill="#5ec267" stroke="#1e5e22" stroke-width="1"/>
<line x1="1004.5" y1="227.2" x2="1004.5" y2="266.6" stroke="#d8303f" stroke-width="1"/>
<rect x="1002.3" y="229.8" width="4.4" height="28.0" fill="#f24d5c" stroke="#8e1020" stroke-width="1"/>
<line x1="1012.0" y1="251.7" x2="1012.0" y2="272.1" stroke="#d8303f" stroke-width="1"/>
<rect x="1009.8" y="258.5" width="4.4" height="3.0" fill="#f24d5c" stroke="#8e1020" stroke-width="1"/>
<line x1="1019.4" y1="236.6" x2="1019.4" y2="261.9" stroke="#4e9a4f" stroke-width="1"/>
<rect x="1017.2" y="247.6" width="4.4" height="13.9" fill="#5ec267" stroke="#1e5e22" stroke-width="1"/>
<line x1="1026.8" y1="244.1" x2="1026.8" y2="285.6" stroke="#d8303f" stroke-width="1"/>
<rect x="1024.6" y="247.6" width="4.4" height="25.8" fill="#f24d5c" stroke="#8e1020" stroke-width="1"/>
<line x1="1034.3" y1="240.1" x2="1034.3" y2="278.3" stroke="#4e9a4f" stroke-width="1"/>
<rect x="1032.1" y="247.6" width="4.4" height="25.8" fill="#5ec267" stroke="#1e5e22" stroke-width="1"/>
<line x1="1041.7" y1="226.4" x2="1041.7" y2="248.8" stroke="#4e9a4f" stroke-width="1"/>
<rect x="1039.5" y="240.1" width="4.4" height="8.1" fill="#5ec267" stroke="#1e5e22" stroke-width="1"/>
<line x1="1049.2" y1="223.7" x2="1049.2" y2="250.9" stroke="#eb8f92" stroke-width="1"/>
<rect x="1047.0" y="239.4" width="4.4" height="1.0" fill="#f3a0a2" stroke="#e07f84" stroke-width="1"/>
<line x1="1056.6" y1="216.4" x2="1056.6" y2="245.7" stroke="#4e9a4f" stroke-width="1"/>
<rect x="1054.4" y="227.3" width="4.4" height="12.4" fill="#5ec267" stroke="#1e5e22" stroke-width="1"/>
<line x1="1064.1" y1="217.2" x2="1064.1" y2="231.5" stroke="#eb8f92" stroke-width="1"/>
<rect x="1061.9" y="226.8" width="4.4" height="1.0" fill="#f3a0a2" stroke="#e07f84" stroke-width="1"/>
<line x1="1071.5" y1="226.8" x2="1071.5" y2="247.8" stroke="#d8303f" stroke-width="1"/>
<rect x="1069.3" y="227.4" width="4.4" height="11.7" fill="#f24d5c" stroke="#8e1020" stroke-width="1"/>
<line x1="1079.0" y1="219.2" x2="1079.0" y2="251.3" stroke="#4e9a4f" stroke-width="1"/>
<rect x="1076.8" y="230.9" width="4.4" height="8.2" fill="#5ec267" stroke="#1e5e22" stroke-width="1"/>
<line x1="1086.4" y1="199.2" x2="1086.4" y2="235.0" stroke="#4e9a4f" stroke-width="1"/>
<rect x="1084.2" y="206.4" width="4.4" height="25.1" fill="#5ec267" stroke="#1e5e22" stroke-width="1"/>
<line x1="1093.8" y1="178.8" x2="1093.8" y2="207.4" stroke="#4e9a4f" stroke-width="1"/>
<rect x="1091.6" y="191.4" width="4.4" height="15.6" fill="#5ec267" stroke="#1e5e22" stroke-width="1"/>
<line x1="1101.3" y1="190.0" x2="1101.3" y2="211.1" stroke="#d8303f" stroke-width="1"/>
<rect x="1099.1" y="190.6" width="4.4" height="15.8" fill="#f24d5c" stroke="#8e1020" stroke-width="1"/>
<line x1="1108.7" y1="201.3" x2="1108.7" y2="217.6" stroke="#d8303f" stroke-width="1"/>
<rect x="1106.5" y="205.7" width="4.4" height="3.3" fill="#f24d5c" stroke="#8e1020" stroke-width="1"/>
<line x1="1116.2" y1="202.3" x2="1116.2" y2="216.0" stroke="#d8303f" stroke-width="1"/>
<rect x="1114.0" y="208.4" width="4.4" height="7.2" fill="#f24d5c" stroke="#8e1020" stroke-width="1"/>
<line x1="1123.6" y1="206.4" x2="1123.6" y2="223.7" stroke="#4e9a4f" stroke-width="1"/>
<rect x="1121.4" y="211.1" width="4.4" height="4.5" fill="#5ec267" stroke="#1e5e22" stroke-width="1"/>
<line x1="1131.1" y1="187.4" x2="1131.1" y2="215.6" stroke="#4e9a4f" stroke-width="1"/>
<rect x="1128.9" y="190.0" width="4.4" height="22.5" fill="#5ec267" stroke="#1e5e22" stroke-width="1"/>
<line x1="1138.5" y1="183.3" x2="1138.5" y2="200.2" stroke="#d8303f" stroke-width="1"/>
<rect x="1136.3" y="190.6" width="4.4" height="8.6" fill="#f24d5c" stroke="#8e1020" stroke-width="1"/>
<line x1="1145.9" y1="182.5" x2="1145.9" y2="209.8" stroke="#4e9a4f" stroke-width="1"/>
<rect x="1143.7" y="187.4" width="4.4" height="11.4" fill="#5ec267" stroke="#1e5e22" stroke-width="1"/>
<line x1="1153.4" y1="147.1" x2="1153.4" y2="192.7" stroke="#4e9a4f" stroke-width="1"/>
<rect x="1151.2" y="149.8" width="4.4" height="37.6" fill="#5ec267" stroke="#1e5e22" stroke-width="1"/>
<line x1="1160.8" y1="107.3" x2="1160.8" y2="150.6" stroke="#4e9a4f" stroke-width="1"/>
<rect x="1158.6" y="117.9" width="4.4" height="32.3" fill="#5ec267" stroke="#1e5e22" stroke-width="1"/>
<line x1="1168.3" y1="113.8" x2="1168.3" y2="126.1" stroke="#d8303f" stroke-width="1"/>
<rect x="1166.1" y="117.9" width="4.4" height="3.7" fill="#f24d5c" stroke="#8e1020" stroke-width="1"/>
<line x1="1175.7" y1="104.2" x2="1175.7" y2="126.7" stroke="#4e9a4f" stroke-width="1"/>
<rect x="1173.5" y="110.3" width="4.4" height="10.9" fill="#5ec267" stroke="#1e5e22" stroke-width="1"/>
<line x1="1183.2" y1="110.3" x2="1183.2" y2="132.2" stroke="#d8303f" stroke-width="1"/>
<rect x="1181.0" y="110.3" width="4.4" height="17.0" fill="#f24d5c" stroke="#8e1020" stroke-width="1"/>
<line x1="1190.6" y1="110.3" x2="1190.6" y2="134.8" stroke="#4e9a4f" stroke-width="1"/>
<rect x="1188.4" y="116.5" width="4.4" height="11.6" fill="#5ec267" stroke="#1e5e22" stroke-width="1"/>
<line x1="1198.0" y1="115.8" x2="1198.0" y2="182.5" stroke="#d8303f" stroke-width="1"/>
<rect x="1195.8" y="116.5" width="4.4" height="65.3" fill="#f24d5c" stroke="#8e1020" stroke-width="1"/>
<line x1="1205.5" y1="162.8" x2="1205.5" y2="188.0" stroke="#4e9a4f" stroke-width="1"/>
<rect x="1203.3" y="177.1" width="4.4" height="4.1" fill="#5ec267" stroke="#1e5e22" stroke-width="1"/>
<line x1="1212.9" y1="172.3" x2="1212.9" y2="224.0" stroke="#d8303f" stroke-width="1"/>
<rect x="1210.7" y="178.2" width="4.4" height="38.5" fill="#f24d5c" stroke="#8e1020" stroke-width="1"/>
<line x1="1220.4" y1="199.1" x2="1220.4" y2="217.5" stroke="#4e9a4f" stroke-width="1"/>
<rect x="1218.2" y="205.2" width="4.4" height="11.6" fill="#5ec267" stroke="#1e5e22" stroke-width="1"/>
<line x1="1227.8" y1="202.5" x2="1227.8" y2="218.9" stroke="#d8303f" stroke-width="1"/>
<rect x="1225.6" y="205.6" width="4.4" height="4.5" fill="#f24d5c" stroke="#8e1020" stroke-width="1"/>
<line x1="1235.3" y1="199.1" x2="1235.3" y2="232.6" stroke="#d8303f" stroke-width="1"/>
<rect x="1233.1" y="209.7" width="4.4" height="9.2" fill="#f24d5c" stroke="#8e1020" stroke-width="1"/>
<line x1="1242.7" y1="203.2" x2="1242.7" y2="233.8" stroke="#4e9a4f" stroke-width="1"/>
<rect x="1240.5" y="208.7" width="4.4" height="10.2" fill="#5ec267" stroke="#1e5e22" stroke-width="1"/>
<line x1="1250.2" y1="168.8" x2="1250.2" y2="238.7" stroke="#eb8f92" stroke-width="1"/>
<rect x="1248.0" y="207.6" width="4.4" height="1.1" fill="#f3a0a2" stroke="#e07f84" stroke-width="1"/>
<line x1="1257.6" y1="178.6" x2="1257.6" y2="209.7" stroke="#4e9a4f" stroke-width="1"/>
<rect x="1255.4" y="191.3" width="4.4" height="18.0" fill="#5ec267" stroke="#1e5e22" stroke-width="1"/>
<line x1="1265.0" y1="184.8" x2="1265.0" y2="204.0" stroke="#d8303f" stroke-width="1"/>
<rect x="1262.8" y="190.9" width="4.4" height="7.6" fill="#f24d5c" stroke="#8e1020" stroke-width="1"/>
<line x1="1272.5" y1="187.2" x2="1272.5" y2="199.5" stroke="#4e9a4f" stroke-width="1"/>
<rect x="1270.3" y="192.3" width="4.4" height="6.8" fill="#5ec267" stroke="#1e5e22" stroke-width="1"/>
<line x1="1279.9" y1="178.6" x2="1279.9" y2="207.6" stroke="#d8303f" stroke-width="1"/>
<rect x="1277.7" y="191.7" width="4.4" height="15.5" fill="#f24d5c" stroke="#8e1020" stroke-width="1"/>
<line x1="1287.4" y1="199.9" x2="1287.4" y2="232.6" stroke="#d8303f" stroke-width="1"/>
<rect x="1285.2" y="206.6" width="4.4" height="16.4" fill="#f24d5c" stroke="#8e1020" stroke-width="1"/>
<line x1="1294.8" y1="201.9" x2="1294.8" y2="225.0" stroke="#4e9a4f" stroke-width="1"/>
<rect x="1292.6" y="206.6" width="4.4" height="17.8" fill="#5ec267" stroke="#1e5e22" stroke-width="1"/>
<line x1="1302.3" y1="187.2" x2="1302.3" y2="215.8" stroke="#4e9a4f" stroke-width="1"/>
<rect x="1300.1" y="192.3" width="4.4" height="14.9" fill="#5ec267" stroke="#1e5e22" stroke-width="1"/>
<line x1="1309.7" y1="185.6" x2="1309.7" y2="207.2" stroke="#d8303f" stroke-width="1"/>
<rect x="1307.5" y="192.9" width="4.4" height="10.7" fill="#f24d5c" stroke="#8e1020" stroke-width="1"/>
<line x1="1317.1" y1="155.5" x2="1317.1" y2="204.0" stroke="#4e9a4f" stroke-width="1"/>
<rect x="1314.9" y="156.2" width="4.4" height="47.4" fill="#5ec267" stroke="#1e5e22" stroke-width="1"/>
<line x1="1324.6" y1="148.0" x2="1324.6" y2="207.6" stroke="#d8303f" stroke-width="1"/>
<rect x="1322.4" y="157.6" width="4.4" height="47.0" fill="#f24d5c" stroke="#8e1020" stroke-width="1"/>
<line x1="1332.0" y1="180.1" x2="1332.0" y2="203.2" stroke="#d8303f" stroke-width="1"/>
<rect x="1329.8" y="194.4" width="4.4" height="8.1" fill="#f24d5c" stroke="#8e1020" stroke-width="1"/>
<line x1="1339.5" y1="196.4" x2="1339.5" y2="228.5" stroke="#d8303f" stroke-width="1"/>
<rect x="1337.3" y="203.6" width="4.4" height="8.5" fill="#f24d5c" stroke="#8e1020" stroke-width="1"/>
<line x1="1346.9" y1="208.5" x2="1346.9" y2="217.7" stroke="#d8303f" stroke-width="1"/>
<rect x="1344.7" y="212.6" width="4.4" height="2.9" fill="#f24d5c" stroke="#8e1020" stroke-width="1"/>
<line x1="1354.4" y1="200.4" x2="1354.4" y2="237.8" stroke="#d8303f" stroke-width="1"/>
<rect x="1352.2" y="215.2" width="4.4" height="3.2" fill="#f24d5c" stroke="#8e1020" stroke-width="1"/>
<line x1="1361.8" y1="218.2" x2="1361.8" y2="246.4" stroke="#d8303f" stroke-width="1"/>
<rect x="1359.6" y="218.4" width="4.4" height="20.4" fill="#f24d5c" stroke="#8e1020" stroke-width="1"/>
<line x1="1369.2" y1="230.5" x2="1369.2" y2="262.7" stroke="#4e9a4f" stroke-width="1"/>
<rect x="1367.0" y="231.9" width="4.4" height="5.8" fill="#5ec267" stroke="#1e5e22" stroke-width="1"/>
<line x1="1376.7" y1="229.3" x2="1376.7" y2="239.9" stroke="#d8303f" stroke-width="1"/>
<rect x="1374.5" y="231.9" width="4.4" height="5.8" fill="#f24d5c" stroke="#8e1020" stroke-width="1"/>
<line x1="1384.1" y1="225.9" x2="1384.1" y2="238.0" stroke="#4e9a4f" stroke-width="1"/>
<rect x="1381.9" y="237.2" width="4.4" height="1.0" fill="#5ec267" stroke="#1e5e22" stroke-width="1"/>
<line x1="1391.6" y1="217.3" x2="1391.6" y2="241.3" stroke="#4e9a4f" stroke-width="1"/>
<rect x="1389.4" y="229.1" width="4.4" height="7.4" fill="#5ec267" stroke="#1e5e22" stroke-width="1"/>
<line x1="1399.0" y1="223.9" x2="1399.0" y2="236.8" stroke="#4e9a4f" stroke-width="1"/>
<rect x="1396.8" y="225.9" width="4.4" height="3.4" fill="#5ec267" stroke="#1e5e22" stroke-width="1"/>
<line x1="1406.5" y1="221.5" x2="1406.5" y2="242.3" stroke="#eb8f92" stroke-width="1"/>
<rect x="1404.3" y="226.3" width="4.4" height="1.0" fill="#f3a0a2" stroke="#e07f84" stroke-width="1"/>
<line x1="1413.9" y1="222.7" x2="1413.9" y2="248.3" stroke="#d8303f" stroke-width="1"/>
<rect x="1411.7" y="227.1" width="4.4" height="8.4" fill="#f24d5c" stroke="#8e1020" stroke-width="1"/>
<line x1="1421.4" y1="224.7" x2="1421.4" y2="236.3" stroke="#4e9a4f" stroke-width="1"/>
<rect x="1419.2" y="231.1" width="4.4" height="4.8" fill="#5ec267" stroke="#1e5e22" stroke-width="1"/>
<line x1="1428.8" y1="223.9" x2="1428.8" y2="232.7" stroke="#4e9a4f" stroke-width="1"/>
<rect x="1426.6" y="228.1" width="4.4" height="3.4" fill="#5ec267" stroke="#1e5e22" stroke-width="1"/>
<line x1="1436.2" y1="223.9" x2="1436.2" y2="236.8" stroke="#d8303f" stroke-width="1"/>
<rect x="1434.0" y="228.3" width="4.4" height="6.4" fill="#f24d5c" stroke="#8e1020" stroke-width="1"/>
<line x1="1443.7" y1="224.2" x2="1443.7" y2="239.6" stroke="#4e9a4f" stroke-width="1"/>
<rect x="1441.5" y="229.3" width="4.4" height="4.9" fill="#5ec267" stroke="#1e5e22" stroke-width="1"/>
</g>
<g clip-path="url(#cr)">
<rect x="14" y="651.6" width="1479.5" height="78.8" fill="#f0d2d3"/>
<line x1="14" y1="651.6" x2="1493.5" y2="651.6" stroke="#8a8386" stroke-width="1.4" stroke-dasharray="5 6.753" stroke-dashoffset="-0.25"/>
<line x1="14" y1="691.0" x2="1493.5" y2="691.0" stroke="#8a8386" stroke-width="1.4" stroke-dasharray="5 6.753" stroke-dashoffset="-0.25"/>
<line x1="14" y1="730.6" x2="1493.5" y2="730.6" stroke="#8a8386" stroke-width="1.4" stroke-dasharray="5 6.753" stroke-dashoffset="-0.25"/>
<line x1="14" y1="641.5" x2="1493.5" y2="641.5" stroke="#efcfc2" stroke-width="1"/>
<line x1="14" y1="740.5" x2="1493.5" y2="740.5" stroke="#efcfc2" stroke-width="1"/>
<polyline points="14.5,679.0 22.0,683.0 29.4,687.0 36.9,690.0 44.3,693.0 51.7,696.0 59.2,699.0 66.6,702.5 74.1,705.5 81.5,709.0 89.0,711.5 96.4,712.3 103.9,711.7 111.3,711.0 118.7,710.8 126.2,710.4 133.6,710.0 141.1,710.1 148.5,709.4 156.0,707.5 163.4,705.6 170.8,703.7 178.3,702.6 185.7,700.3 193.2,698.1 200.6,696.1 208.1,695.4 215.5,694.2 222.9,693.1 230.4,692.2 237.8,691.1 245.3,689.5 252.7,688.0 260.2,687.8 267.6,688.2 275.1,690.1 282.5,690.9 289.9,692.3 297.4,693.6 304.8,694.2 312.3,694.3 319.7,695.0 327.2,695.4 334.6,695.9 342.0,696.3 349.5,696.7 356.9,698.2 364.4,699.9 371.8,700.6 379.3,699.9 386.7,699.7 394.1,699.2 401.6,698.1 409.0,697.8 416.5,696.3 423.9,695.1 431.4,693.5 438.8,692.0 446.3,689.9 453.7,687.4 461.1,684.1 468.6,679.6 476.0,675.1 483.5,670.2 490.9,664.4 498.4,658.9 505.8,653.6 513.2,648.8 520.7,646.8 528.1,644.2 535.6,641.2 543.0,638.8 550.5,637.1 557.9,636.1 565.3,637.0 572.8,638.0 580.2,639.6 587.7,641.7 595.1,645.1 602.6,647.7 610.0,651.7 617.5,655.2 624.9,656.4 632.3,657.9 639.8,660.1 647.2,661.4 654.7,663.5 662.1,665.8 669.6,665.9 677.0,666.9 684.4,669.4 691.9,672.3 699.3,674.2 706.8,677.3 714.2,679.0 721.7,680.3 729.1,680.6 736.5,681.5 744.0,682.1 751.4,682.7 758.9,682.8 766.3,682.3 773.8,683.2 781.2,684.1 788.7,683.1 796.1,682.3 803.5,682.2 811.0,681.0 818.4,679.9 825.9,679.9 833.3,680.6 840.8,681.1 848.2,683.3 855.6,685.5 863.1,687.6 870.5,689.8 878.0,691.5 885.4,693.3 892.9,696.5 900.3,699.0 907.8,700.1 915.2,700.2 922.6,699.2 930.1,697.5 937.5,697.4 945.0,696.8 952.4,693.9 959.9,691.4 967.3,688.7 974.7,686.8 982.2,684.1 989.6,681.9 997.1,677.7 1004.5,674.4 1012.0,672.3 1019.4,671.6 1026.8,672.7 1034.3,673.4 1041.7,673.2 1049.2,673.3 1056.6,674.1 1064.1,674.4 1071.5,675.3 1079.0,675.4 1086.4,675.5 1093.8,674.3 1101.3,674.4 1108.7,673.8 1116.2,673.4 1123.6,673.1 1131.1,671.5 1138.5,670.9 1145.9,670.1 1153.4,668.3 1160.8,666.3 1168.3,664.4 1175.7,662.0 1183.2,660.5 1190.6,659.4 1198.0,661.3 1205.5,662.5 1212.9,664.6 1220.4,666.1 1227.8,667.9 1235.3,670.5 1242.7,672.4 1250.2,674.6 1257.6,677.2 1265.0,680.7 1272.5,683.7 1279.9,687.5 1287.4,690.9 1294.8,693.9 1302.3,693.9 1309.7,694.4 1317.1,692.4 1324.6,691.9 1332.0,691.6 1339.5,691.3 1346.9,691.5 1354.4,691.7 1361.8,693.1 1369.2,694.1 1376.7,695.5 1384.1,696.2 1391.6,696.1 1399.0,696.6 1406.5,697.5 1413.9,698.3 1421.4,700.4 1428.8,701.1 1436.2,701.8 1443.7,702.0" fill="none" stroke="#f08cad" stroke-width="1.2"/>
<polyline points="14.5,706.0 22.0,709.0 29.4,711.4 36.9,708.6 44.3,707.4 51.7,711.0 59.2,712.6 66.6,710.6 74.1,709.6 81.5,719.0 89.0,721.6 96.4,716.0 103.9,707.0 111.3,703.6 118.7,704.4 126.2,703.4 133.6,705.6 141.1,709.0 148.5,698.4 156.0,683.6 163.4,687.0 170.8,683.6 178.3,694.0 185.7,687.0 193.2,691.0 200.6,688.4 208.1,696.4 215.5,686.6 222.9,690.0 230.4,689.6 237.8,690.4 245.3,687.6 252.7,677.2 260.2,681.0 267.6,691.6 275.1,710.4 282.5,705.6 289.9,706.6 297.4,709.4 304.8,697.0 312.3,697.4 319.7,696.4 327.2,696.0 334.6,695.6 342.0,696.0 349.5,693.0 356.9,699.0 364.4,705.0 371.8,700.4 379.3,701.0 386.7,703.0 394.1,699.0 401.6,694.0 409.0,693.4 416.5,676.4 423.9,679.6 431.4,673.0 438.8,675.6 446.3,666.0 453.7,657.6 461.1,653.0 468.6,642.4 476.0,638.0 483.5,632.0 490.9,622.0 498.4,621.6 505.8,620.0 513.2,625.6 520.7,648.4 528.1,643.0 535.6,631.6 543.0,642.4 550.5,642.4 557.9,643.0 565.3,665.0 572.8,657.6 580.2,660.0 587.7,661.6 595.1,669.0 602.6,657.6 610.0,677.0 617.5,674.0 624.9,665.3 632.3,664.5 639.8,661.6 647.2,661.0 654.7,671.6 662.1,676.0 669.6,666.0 677.0,671.0 684.4,695.6 691.9,701.6 699.3,696.0 706.8,700.4 714.2,702.0 721.7,691.6 729.1,670.0 736.5,677.0 744.0,669.6 751.4,670.0 758.9,672.4 766.3,669.0 773.8,679.0 781.2,683.0 788.7,681.6 796.1,691.0 803.5,694.0 811.0,684.0 818.4,686.0 825.9,692.4 833.3,679.6 840.8,683.6 848.2,700.0 855.6,701.0 863.1,701.6 870.5,701.0 878.0,702.0 885.4,709.0 892.9,725.6 900.3,726.0 907.8,709.6 915.2,685.5 922.6,671.8 930.1,668.4 937.5,678.4 945.0,675.0 952.4,660.0 959.9,666.0 967.3,664.0 974.7,673.6 982.2,665.0 989.6,677.0 997.1,668.0 1004.5,679.0 1012.0,680.4 1019.4,676.4 1026.8,686.4 1034.3,678.4 1041.7,676.0 1049.2,675.6 1056.6,671.0 1064.1,671.0 1071.5,677.0 1079.0,675.0 1086.4,665.6 1093.8,660.4 1101.3,669.0 1108.7,670.4 1116.2,675.0 1123.6,672.4 1131.1,664.4 1138.5,669.6 1145.9,665.0 1153.4,651.0 1160.8,642.4 1168.3,645.0 1175.7,642.4 1183.2,654.0 1190.6,651.0 1198.0,686.4 1205.5,685.6 1212.9,699.6 1220.4,696.0 1227.8,698.0 1235.3,700.6 1242.7,696.0 1250.2,696.0 1257.6,687.6 1265.0,691.0 1272.5,687.6 1279.9,695.0 1287.4,702.6 1294.8,692.4 1302.3,687.0 1309.7,692.4 1317.1,672.0 1324.6,689.0 1332.0,693.0 1339.5,697.0 1346.9,698.0 1354.4,699.0 1361.8,707.6 1369.2,704.4 1376.7,707.0 1384.1,705.4 1391.6,701.0 1399.0,699.0 1406.5,699.6 1413.9,704.6 1421.4,701.4 1428.8,698.6 1436.2,703.0 1443.7,699.5" fill="none" stroke="#7355c8" stroke-width="1.5"/>
</g>
<line x1="14" y1="605.5" x2="1585.7" y2="605.5" stroke="#a5918a" stroke-width="1.2"/>
<line x1="14" y1="742.5" x2="1585.7" y2="742.5" stroke="#a5918a" stroke-width="1.2"/>
<line x1="1493.5" y1="36.3" x2="1493.5" y2="784.4" stroke="#a5918a" stroke-width="1.2"/>
<text x="14.3" y="26.3" font-family="Liberation Sans, Arial, sans-serif" font-size="15.5" fill="#c9ccd5" stroke="#c9ccd5" stroke-width="0.45" textLength="487.5" lengthAdjust="spacingAndGlyphs">AnShRoy038 published on TradingView.com, May 22, 2023 20:04 UTC</text>
<text x="25.2" y="62.9" font-family="Liberation Sans, Arial, sans-serif" font-size="15.5" font-weight="400" fill="#1f1f1f" textLength="262" lengthAdjust="spacingAndGlyphs">Ethereum / U.S. Dollar, 1D, BINANCE</text>
<text x="298.3" y="62.9" font-family="Liberation Sans, Arial, sans-serif" font-size="15.5" font-weight="400" fill="#1f1f1f">O</text>
<text x="309" y="62.9" font-family="Liberation Sans, Arial, sans-serif" font-size="15.5" font-weight="400" fill="#3a7d3c" textLength="55.3" lengthAdjust="spacingAndGlyphs">1805.05</text>
<text x="375.3" y="62.9" font-family="Liberation Sans, Arial, sans-serif" font-size="15.5" font-weight="400" fill="#1f1f1f">H</text>
<text x="386.5" y="62.9" font-family="Liberation Sans, Arial, sans-serif" font-size="15.5" font-weight="400" fill="#3a7d3c" textLength="54.8" lengthAdjust="spacingAndGlyphs">1828.88</text>
<text x="452.3" y="62.9" font-family="Liberation Sans, Arial, sans-serif" font-size="15.5" font-weight="400" fill="#1f1f1f">L</text>
<text x="460.5" y="62.9" font-family="Liberation Sans, Arial, sans-serif" font-size="15.5" font-weight="400" fill="#3a7d3c" textLength="55.0" lengthAdjust="spacingAndGlyphs">1792.45</text>
<text x="526" y="62.9" font-family="Liberation Sans, Arial, sans-serif" font-size="15.5" font-weight="400" fill="#1f1f1f">C</text>
<text x="536.5" y="62.9" font-family="Liberation Sans, Arial, sans-serif" font-size="15.5" font-weight="400" fill="#3a7d3c" textLength="54.7" lengthAdjust="spacingAndGlyphs">1816.58</text>
<text x="601.6" y="62.9" font-family="Liberation Sans, Arial, sans-serif" font-size="15.5" font-weight="400" fill="#3a7d3c" textLength="113.4" lengthAdjust="spacingAndGlyphs">+11.37 (+0.63%)</text>
<text x="25.2" y="85.4" font-family="Liberation Sans, Arial, sans-serif" font-size="15.5" font-weight="400" fill="#1f1f1f" textLength="141.6" lengthAdjust="spacingAndGlyphs">EMA 20/50/100/200</text>
<text x="179" y="85.4" font-family="Liberation Sans, Arial, sans-serif" font-size="15.5" font-weight="400" fill="#ec2a2a" textLength="54.4" lengthAdjust="spacingAndGlyphs">1834.59</text>
<text x="245" y="85.4" font-family="Liberation Sans, Arial, sans-serif" font-size="15.5" font-weight="400" fill="#8e3bb0" textLength="54.4" lengthAdjust="spacingAndGlyphs">1838.25</text>
<text x="310.6" y="85.4" font-family="Liberation Sans, Arial, sans-serif" font-size="15.5" font-weight="400" fill="#24b3cf" textLength="55" lengthAdjust="spacingAndGlyphs">1772.98</text>
<text x="376.6" y="85.4" font-family="Liberation Sans, Arial, sans-serif" font-size="15.5" font-weight="400" fill="#2fc02f" textLength="54.2" lengthAdjust="spacingAndGlyphs">1702.51</text>
<text x="25" y="108.2" font-family="Liberation Sans, Arial, sans-serif" font-size="15.5" font-weight="400" fill="#1f1f1f" textLength="122.9" lengthAdjust="spacingAndGlyphs">DSR (200, 50, 20)</text>
<text x="159.1" y="108.2" font-family="Liberation Sans, Arial, sans-serif" font-size="15.5" font-weight="400" fill="#3a6ee0" textLength="54.9" lengthAdjust="spacingAndGlyphs">1834.59</text>
<text x="225.3" y="108.2" font-family="Liberation Sans, Arial, sans-serif" font-size="15.5" font-weight="400" fill="#3a6ee0" textLength="54.3" lengthAdjust="spacingAndGlyphs">1838.25</text>
<text x="291.4" y="108.2" font-family="Liberation Sans, Arial, sans-serif" font-size="15.5" font-weight="400" fill="#3a6ee0" textLength="53.8" lengthAdjust="spacingAndGlyphs">1702.51</text>
<text x="357" y="108.2" font-family="Liberation Sans, Arial, sans-serif" font-size="15.5" font-weight="400" fill="#3a6ee0" textLength="53.9" lengthAdjust="spacingAndGlyphs">1702.51</text>
<text x="25" y="130.5" font-family="Liberation Sans, Arial, sans-serif" font-size="15.5" font-weight="400" fill="#1f1f1f" textLength="64.6" lengthAdjust="spacingAndGlyphs">Vol · ETH</text>
<text x="100.1" y="130.5" font-family="Liberation Sans, Arial, sans-serif" font-size="15.5" font-weight="400" fill="#2a9d8c" textLength="56.9" lengthAdjust="spacingAndGlyphs">26.601K</text>
<text x="24.9" y="632.8" font-family="Liberation Sans, Arial, sans-serif" font-size="15.5" font-weight="400" fill="#1f1f1f" textLength="187" lengthAdjust="spacingAndGlyphs">RSI (14, close, SMA, 14, 2)</text>
<text x="222.9" y="632.8" font-family="Liberation Sans, Arial, sans-serif" font-size="15.5" font-weight="400" fill="#7557c6" textLength="38.3" lengthAdjust="spacingAndGlyphs">45.69</text>
<text x="272.1" y="632.8" font-family="Liberation Sans, Arial, sans-serif" font-size="15.5" font-weight="400" fill="#ef8fb0" textLength="38.3" lengthAdjust="spacingAndGlyphs">44.13</text>
<text x="321.4" y="632.8" font-family="Liberation Sans, Arial, sans-serif" font-size="15.5" font-weight="400" fill="#1f1f1f" textLength="8.7" lengthAdjust="spacingAndGlyphs">∅</text>
<text x="341" y="632.8" font-family="Liberation Sans, Arial, sans-serif" font-size="15.5" font-weight="400" fill="#1f1f1f" textLength="8.8" lengthAdjust="spacingAndGlyphs">∅</text>
<text x="1506.8" y="61.6" font-family="Liberation Sans, Arial, sans-serif" font-size="18" font-weight="400" fill="#1a1a1a" textLength="31.2" lengthAdjust="spacingAndGlyphs">USD</text>
<text x="1507" y="88.66830763540614" font-family="Liberation Sans, Arial, sans-serif" font-size="18" font-weight="400" fill="#1a1a1a" textLength="65.5" lengthAdjust="spacingAndGlyphs">2200.00</text>
<text x="1507" y="161.91418081502977" font-family="Liberation Sans, Arial, sans-serif" font-size="18" font-weight="400" fill="#1a1a1a" textLength="65.5" lengthAdjust="spacingAndGlyphs">2000.00</text>
<text x="1507" y="333.4" font-family="Liberation Sans, Arial, sans-serif" font-size="18" font-weight="400" fill="#1a1a1a" textLength="65.5" lengthAdjust="spacingAndGlyphs">1600.00</text>
<text x="1507" y="393.3134446194735" font-family="Liberation Sans, Arial, sans-serif" font-size="18" font-weight="400" fill="#1a1a1a" textLength="65.5" lengthAdjust="spacingAndGlyphs">1480.00</text>
<text x="1507" y="458.29579731904005" font-family="Liberation Sans, Arial, sans-serif" font-size="18" font-weight="400" fill="#1a1a1a" textLength="65.5" lengthAdjust="spacingAndGlyphs">1360.00</text>
<text x="1507" y="516.9884315149852" font-family="Liberation Sans, Arial, sans-serif" font-size="18" font-weight="400" fill="#1a1a1a" textLength="65.5" lengthAdjust="spacingAndGlyphs">1260.00</text>
<text x="1507" y="567.3999431053326" font-family="Liberation Sans, Arial, sans-serif" font-size="18" font-weight="400" fill="#1a1a1a" textLength="65.5" lengthAdjust="spacingAndGlyphs">1180.00</text>
<path d="M1493.6,153.4 H1578.5 a2,2 0 0 1 2,2 V177.3 a2,2 0 0 1 -2,2 H1493.6 Z" fill="#f9a02b"/>
<text x="1507" y="172.9" font-family="Liberation Sans, Arial, sans-serif" font-size="18" fill="#1a1a1a" stroke="#1a1a1a" stroke-width="0.35" textLength="65.5" lengthAdjust="spacingAndGlyphs">1972.02</text>
<path d="M1493.6,190.1 H1578.5 a2,2 0 0 1 2,2 V213.4 a2,2 0 0 1 -2,2 H1493.6 Z" fill="#f9a02b"/>
<text x="1507" y="209.2" font-family="Liberation Sans, Arial, sans-serif" font-size="18" fill="#1a1a1a" stroke="#1a1a1a" stroke-width="0.35" textLength="65.5" lengthAdjust="spacingAndGlyphs">1867.70</text>
<path d="M1493.6,216.0 H1578.5 a2,2 0 0 1 2,2 V240.0 a2,2 0 0 1 -2,2 H1493.6 Z" fill="#66bb66"/>
<text x="1507" y="235.5" font-family="Liberation Sans, Arial, sans-serif" font-size="18" fill="#1a1a1a" stroke="#1a1a1a" stroke-width="0.35" textLength="65.5" lengthAdjust="spacingAndGlyphs">1816.58</text>
<path d="M1493.6,242.9 H1578.5 a2,2 0 0 1 2,2 V266.4 a2,2 0 0 1 -2,2 H1493.6 Z" fill="#2f8a36"/>
<text x="1507" y="262.1" font-family="Liberation Sans, Arial, sans-serif" font-size="18" fill="#ffffff" stroke="#ffffff" stroke-width="0.35" textLength="65.5" lengthAdjust="spacingAndGlyphs">1772.99</text>
<path d="M1493.6,275.3 H1578.5 a2,2 0 0 1 2,2 V298.8 a2,2 0 0 1 -2,2 H1493.6 Z" fill="#2f8a36"/>
<text x="1507" y="294.6" font-family="Liberation Sans, Arial, sans-serif" font-size="18" fill="#ffffff" stroke="#ffffff" stroke-width="0.35" textLength="65.5" lengthAdjust="spacingAndGlyphs">1683.18</text>
<g clip-path="url(#cra)">
<text x="1507" y="647.8" font-family="Liberation Sans, Arial, sans-serif" font-size="18" font-weight="400" fill="#1a1a1a" textLength="45.4" lengthAdjust="spacingAndGlyphs">75.00</text>
<text x="1507" y="697.1" font-family="Liberation Sans, Arial, sans-serif" font-size="18" font-weight="400" fill="#1a1a1a" textLength="45.4" lengthAdjust="spacingAndGlyphs">50.00</text>
<text x="1507" y="746.0" font-family="Liberation Sans, Arial, sans-serif" font-size="18" font-weight="400" fill="#1a1a1a" textLength="45.4" lengthAdjust="spacingAndGlyphs">25.00</text>
</g>
<text x="148.2" y="769.4" font-family="Liberation Sans, Arial, sans-serif" font-size="17.5" font-weight="400" fill="#1a1a1a" textLength="30.2" lengthAdjust="spacingAndGlyphs">Dec</text>
<text x="373.2" y="769.4" font-family="Liberation Sans, Arial, sans-serif" font-size="17.5" font-weight="700" fill="#1a1a1a" textLength="41.4" lengthAdjust="spacingAndGlyphs">2023</text>
<text x="609.8" y="769.4" font-family="Liberation Sans, Arial, sans-serif" font-size="17.5" font-weight="400" fill="#1a1a1a" textLength="29.6" lengthAdjust="spacingAndGlyphs">Feb</text>
<text x="817.5" y="769.4" font-family="Liberation Sans, Arial, sans-serif" font-size="17.5" font-weight="400" fill="#1a1a1a" textLength="30.4" lengthAdjust="spacingAndGlyphs">Mar</text>
<text x="1049.8" y="769.4" font-family="Liberation Sans, Arial, sans-serif" font-size="17.5" font-weight="400" fill="#1a1a1a" textLength="28.7" lengthAdjust="spacingAndGlyphs">Apr</text>
<text x="1270.5" y="769.4" font-family="Liberation Sans, Arial, sans-serif" font-size="17.5" font-weight="400" fill="#1a1a1a" textLength="31.9" lengthAdjust="spacingAndGlyphs">May</text>
<g fill="#d1d4dc"><path d="M14,802 H24.5 V815 H19 V807.5 H14 Z"/><circle cx="28.6" cy="804.7" r="2.5"/><path d="M33,802 H39.6 L35.4,815 H28.8 Z"/></g>
<text x="46" y="814.8" font-family="Liberation Sans, Arial, sans-serif" font-size="16.5" fill="#d1d4dc" stroke="#d1d4dc" stroke-width="0.5" textLength="92.5" lengthAdjust="spacingAndGlyphs">TradingView</text>
</svg>
</body></html>
